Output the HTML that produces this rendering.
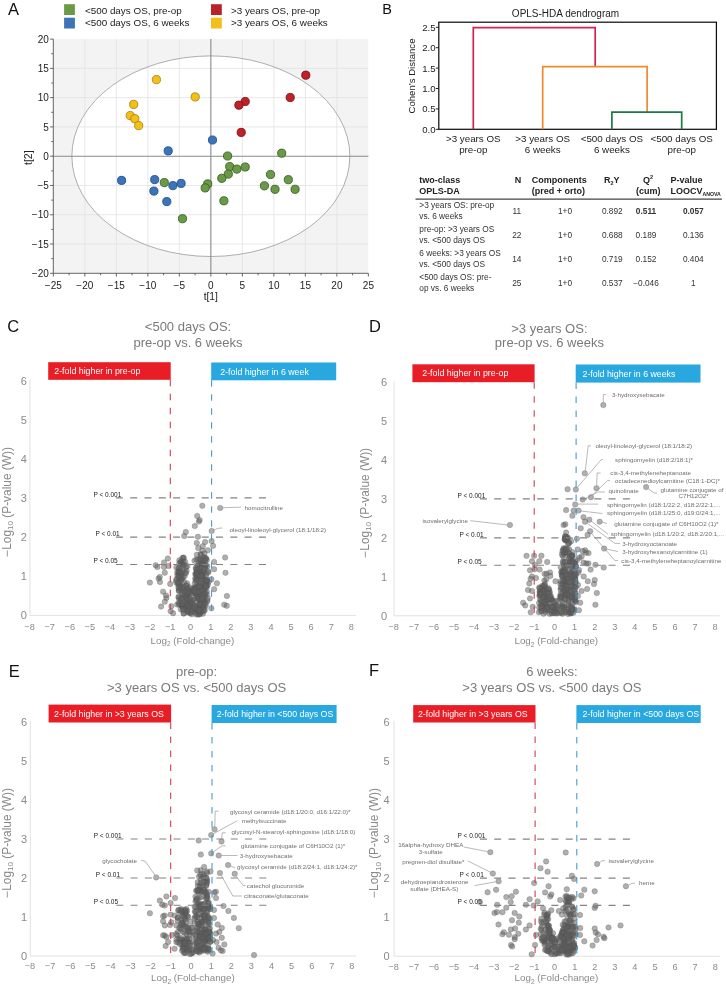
<!DOCTYPE html>
<html><head><meta charset="utf-8"><style>
html,body{margin:0;padding:0;background:#fff;width:726px;height:988px;overflow:hidden}
svg{display:block;font-family:"Liberation Sans",sans-serif;will-change:transform}
</style></head><body>
<svg width="726" height="988" viewBox="0 0 726 988">
<text x="8" y="14.6" font-size="16.5" fill="#111">A</text>
<rect x="64.1" y="4.2" width="10.8" height="10.8" fill="#6a9a46"/>
<rect x="64.1" y="17.7" width="10.8" height="10.8" fill="#3d74b6"/>
<rect x="211" y="4.2" width="10.8" height="10.8" fill="#b8232b"/>
<rect x="211" y="17.7" width="10.8" height="10.8" fill="#f3bf1a"/>
<g font-size="9.9" fill="#222"><text x="84.9" y="14.4">&lt;500 days OS, pre-op</text><text x="84.9" y="26.2">&lt;500 days OS, 6 weeks</text><text x="230.9" y="14.4">&gt;3 years OS, pre-op</text><text x="230.9" y="26.2">&gt;3 years OS, 6 weeks</text></g>
<rect x="53.3" y="39.1" width="315.0" height="234.2" fill="#f3f3f3"/>
<ellipse cx="210.85" cy="156.2" rx="139" ry="100.3" fill="#fff"/>
<path d="M84.85 39.1V273.3M116.35 39.1V273.3M147.85 39.1V273.3M179.35 39.1V273.3M242.35 39.1V273.3M273.85 39.1V273.3M305.35 39.1V273.3M336.85 39.1V273.3M53.3 244.02H368.4M53.3 214.75H368.4M53.3 185.47H368.4M53.3 126.92H368.4M53.3 97.65H368.4M53.3 68.37H368.4" stroke="#e2e2e2" stroke-width="0.8" fill="none"/>
<ellipse cx="210.85" cy="156.2" rx="139" ry="100.3" fill="none" stroke="#9a9a9a" stroke-width="0.8"/>
<path d="M210.85 39.1V273.3M53.3 156.20H368.4" stroke="#8a8a8a" stroke-width="1.1" fill="none"/>
<path d="M53.3 39.1V273.3H368.4M50.1 273.30H53.3M51.3 258.66H53.3M50.1 244.02H53.3M51.3 229.39H53.3M50.1 214.75H53.3M51.3 200.11H53.3M50.1 185.47H53.3M51.3 170.84H53.3M50.1 156.20H53.3M51.3 141.56H53.3M50.1 126.92H53.3M51.3 112.29H53.3M50.1 97.65H53.3M51.3 83.01H53.3M50.1 68.37H53.3M51.3 53.74H53.3M50.1 39.10H53.3M53.35 273.3V276.5M69.10 273.3V275.3M84.85 273.3V276.5M100.60 273.3V275.3M116.35 273.3V276.5M132.10 273.3V275.3M147.85 273.3V276.5M163.60 273.3V275.3M179.35 273.3V276.5M195.10 273.3V275.3M210.85 273.3V276.5M226.60 273.3V275.3M242.35 273.3V276.5M258.10 273.3V275.3M273.85 273.3V276.5M289.60 273.3V275.3M305.35 273.3V276.5M321.10 273.3V275.3M336.85 273.3V276.5M352.60 273.3V275.3M368.35 273.3V276.5" stroke="#555" stroke-width="0.9" fill="none"/>
<g font-size="10" fill="#222"><text x="48.8" y="276.9" text-anchor="end">−20</text><text x="48.8" y="247.6" text-anchor="end">−15</text><text x="48.8" y="218.3" text-anchor="end">−10</text><text x="48.8" y="189.1" text-anchor="end">−5</text><text x="48.8" y="159.8" text-anchor="end">0</text><text x="48.8" y="130.5" text-anchor="end">5</text><text x="48.8" y="101.2" text-anchor="end">10</text><text x="48.8" y="72.0" text-anchor="end">15</text><text x="48.8" y="42.7" text-anchor="end">20</text><text x="53.3" y="288.8" text-anchor="middle">−25</text><text x="84.8" y="288.8" text-anchor="middle">−20</text><text x="116.3" y="288.8" text-anchor="middle">−15</text><text x="147.8" y="288.8" text-anchor="middle">−10</text><text x="179.3" y="288.8" text-anchor="middle">−5</text><text x="210.8" y="288.8" text-anchor="middle">0</text><text x="242.3" y="288.8" text-anchor="middle">5</text><text x="273.9" y="288.8" text-anchor="middle">10</text><text x="305.4" y="288.8" text-anchor="middle">15</text><text x="336.9" y="288.8" text-anchor="middle">20</text><text x="368.4" y="288.8" text-anchor="middle">25</text></g>
<text x="210.8" y="300.2" font-size="10.3" fill="#222" text-anchor="middle">t[1]</text>
<text transform="translate(32.2 157.7) rotate(-90)" font-size="10.5" fill="#222" text-anchor="middle">t[2]</text>
<g fill="#6b9a47" stroke="#365c22" stroke-width="0.85"><circle cx="227.6" cy="156" r="4.1"/><circle cx="281.7" cy="153.2" r="4.1"/><circle cx="229.7" cy="166.6" r="4.1"/><circle cx="236.8" cy="169.1" r="4.1"/><circle cx="245.2" cy="167" r="4.1"/><circle cx="228.3" cy="174.1" r="4.1"/><circle cx="221.8" cy="178.3" r="4.1"/><circle cx="270.5" cy="174.5" r="4.1"/><circle cx="288.3" cy="179.7" r="4.1"/><circle cx="207.7" cy="183.9" r="4.1"/><circle cx="205.2" cy="187.9" r="4.1"/><circle cx="264.4" cy="185.8" r="4.1"/><circle cx="275" cy="189.3" r="4.1"/><circle cx="295.1" cy="189.3" r="4.1"/><circle cx="223.9" cy="200.8" r="4.1"/><circle cx="164.3" cy="182.6" r="4.1"/><circle cx="182.5" cy="218.7" r="4.1"/></g>
<g fill="#3a74ba" stroke="#1f4c82" stroke-width="0.85"><circle cx="212.5" cy="140.0" r="4.1"/><circle cx="168.2" cy="150.9" r="4.1"/><circle cx="121.6" cy="180.4" r="4.1"/><circle cx="154.7" cy="179.6" r="4.1"/><circle cx="153.9" cy="191.1" r="4.1"/><circle cx="172.9" cy="185.6" r="4.1"/><circle cx="181.1" cy="183.4" r="4.1"/><circle cx="166.8" cy="201.6" r="4.1"/></g>
<g fill="#f5c015" stroke="#a8820f" stroke-width="0.85"><circle cx="156.4" cy="79.6" r="4.1"/><circle cx="195.2" cy="96.9" r="4.1"/><circle cx="133.7" cy="104.4" r="4.1"/><circle cx="130.2" cy="115.6" r="4.1"/><circle cx="134.8" cy="118.7" r="4.1"/><circle cx="138.7" cy="125.6" r="4.1"/></g>
<g fill="#c21f29" stroke="#6e1216" stroke-width="0.85"><circle cx="305.8" cy="75.2" r="4.1"/><circle cx="290.2" cy="97.5" r="4.1"/><circle cx="245.2" cy="101.5" r="4.1"/><circle cx="238.9" cy="105.2" r="4.1"/><circle cx="241.2" cy="132.4" r="4.1"/></g>
<text x="382.3" y="14" font-size="14.5" fill="#111">B</text>
<text x="565.5" y="17" font-size="10" fill="#222" text-anchor="middle">OPLS-HDA dendrogram</text>
<rect x="438.8" y="22.2" width="277.6" height="107.1" fill="none" stroke="#111" stroke-width="1.25"/>
<path d="M435.8 129.30H438.8M435.8 108.90H438.8M435.8 88.50H438.8M435.8 68.10H438.8M435.8 47.70H438.8M435.8 27.30H438.8" stroke="#222" stroke-width="1"/>
<g font-size="9.6" fill="#222" text-anchor="end"><text x="435.5" y="132.7">0.0</text><text x="435.5" y="112.3">0.5</text><text x="435.5" y="91.9">1.0</text><text x="435.5" y="71.5">1.5</text><text x="435.5" y="51.1">2.0</text><text x="435.5" y="30.7">2.5</text></g>
<text transform="translate(414.6 76) rotate(-90)" font-size="9.6" fill="#222" text-anchor="middle">Cohen’s Distance</text>
<path d="M473.3 129.3V27.6H595.2V66.7" stroke="#d32152" stroke-width="1.7" fill="none"/>
<path d="M542.7 129.3V66.7H647.1V112.1" stroke="#ee8a2c" stroke-width="1.7" fill="none"/>
<path d="M611.9 129.3V112.1H681.7V129.3" stroke="#1d7a45" stroke-width="1.7" fill="none"/>
<g font-size="9.8" fill="#222" text-anchor="middle"><text x="473.3" y="141.8">&gt;3 years OS</text><text x="473.3" y="153.2">pre-op</text><text x="542.7" y="141.8">&gt;3 years OS</text><text x="542.7" y="153.2">6 weeks</text><text x="611.9" y="141.8">&lt;500 days OS</text><text x="611.9" y="153.2">6 weeks</text><text x="681.7" y="141.8">&lt;500 days OS</text><text x="681.7" y="153.2">pre-op</text></g>
<g font-size="9" font-weight="bold" fill="#222"><text x="419.3" y="182.6">two-class</text><text x="419.3" y="193.6">OPLS-DA</text><text x="517.9" y="182.6" text-anchor="middle">N</text><text x="531.8" y="182.6">Components</text><text x="531.8" y="193.6">(pred + orto)</text><text x="603.9" y="182.6">R<tspan font-size="5.5" dy="2.5">2</tspan><tspan dy="-2.5">Y</tspan></text><text x="648" y="182.6" text-anchor="middle">Q<tspan font-size="5.5" dy="-3.5">2</tspan></text><text x="648.3" y="193.6" text-anchor="middle">(cum)</text><text x="670.4" y="182.6">P-value</text><text x="670.4" y="193.6">LOOCV<tspan font-size="5.2" dy="2.5">ANOVA</tspan></text></g>
<path d="M415.5 199.2H722" stroke="#444" stroke-width="1.3"/>
<g font-size="8.3" fill="#333"><text x="419.3" y="208">&gt;3 years OS: pre-op</text><text x="419.3" y="219">vs. 6 weeks</text><text x="516.8" y="214" text-anchor="middle">11</text><text x="565" y="214" text-anchor="middle">1+0</text><text x="612.3" y="214" text-anchor="middle">0.892</text><text x="646" y="214" text-anchor="middle"><tspan font-weight="bold">0.511</tspan></text><text x="693.3" y="214" text-anchor="middle"><tspan font-weight="bold">0.057</tspan></text><text x="419.3" y="232">pre-op: &gt;3 years OS</text><text x="419.3" y="243">vs. &lt;500 days OS</text><text x="516.8" y="238" text-anchor="middle">22</text><text x="565" y="238" text-anchor="middle">1+0</text><text x="612.3" y="238" text-anchor="middle">0.688</text><text x="646" y="238" text-anchor="middle">0.189</text><text x="693.3" y="238" text-anchor="middle">0.136</text><text x="419.3" y="256">6 weeks: &gt;3 years OS</text><text x="419.3" y="267">vs. &lt;500 days OS</text><text x="516.8" y="262" text-anchor="middle">14</text><text x="565" y="262" text-anchor="middle">1+0</text><text x="612.3" y="262" text-anchor="middle">0.719</text><text x="646" y="262" text-anchor="middle">0.152</text><text x="693.3" y="262" text-anchor="middle">0.404</text><text x="419.3" y="280">&lt;500 days OS: pre-</text><text x="419.3" y="291">op vs. 6 weeks</text><text x="516.8" y="286" text-anchor="middle">25</text><text x="565" y="286" text-anchor="middle">1+0</text><text x="612.3" y="286" text-anchor="middle">0.537</text><text x="646" y="286" text-anchor="middle">−0.046</text><text x="693.3" y="286" text-anchor="middle">1</text></g>
<text x="7.2" y="331.7" font-size="16.5" fill="#111">C</text>
<g font-size="13" fill="#7a7a7a" text-anchor="middle"><text x="188.0" y="331.2">&lt;500 days OS:</text><text x="188.0" y="347.0">pre-op vs. 6 weeks</text></g>
<path d="M29.9 379.5V615.4H355.8" stroke="#dedede" stroke-width="0.9" fill="none"/>
<g font-size="11" fill="#8a8a8a" text-anchor="end"><text x="26.9" y="619.4">0</text><text x="26.9" y="580.2">1</text><text x="26.9" y="541.1">2</text><text x="26.9" y="501.9">3</text><text x="26.9" y="462.8">4</text><text x="26.9" y="423.6">5</text><text x="26.9" y="384.5">6</text></g>
<g font-size="9.2" fill="#8a8a8a" text-anchor="middle"><text x="29.6" y="629.6">−8</text><text x="49.7" y="629.6">−7</text><text x="69.8" y="629.6">−6</text><text x="89.8" y="629.6">−5</text><text x="109.9" y="629.6">−4</text><text x="130.0" y="629.6">−3</text><text x="150.1" y="629.6">−2</text><text x="170.2" y="629.6">−1</text><text x="190.6" y="629.6">0</text><text x="210.7" y="629.6">1</text><text x="230.8" y="629.6">2</text><text x="250.9" y="629.6">3</text><text x="271.0" y="629.6">4</text><text x="291.1" y="629.6">5</text><text x="311.1" y="629.6">6</text><text x="331.2" y="629.6">7</text><text x="351.3" y="629.6">8</text></g>
<text x="192.4" y="643.9" font-size="9.8" fill="#8a8a8a" text-anchor="middle">Log<tspan font-size="6.5" dy="2.5">2</tspan><tspan dy="-2.5"> (Fold-change)</tspan></text>
<text transform="translate(10.6 501.9) rotate(-90)" font-size="11.9" fill="#8a8a8a" text-anchor="middle">−Log<tspan font-size="8" dy="2.5">10</tspan><tspan dy="-2.5"> (P-value (W))</tspan></text>
<g font-size="6.5" fill="#222"><text x="93.4" y="497.1">P &lt; 0.001</text><text x="95.4" y="535.7">P &lt; 0.01</text><text x="93.4" y="562.9">P &lt; 0.05</text></g>
<rect x="48.2" y="362.2" width="122.5" height="17.6" fill="#e91d25"/>
<rect x="211.2" y="362.5" width="125.0" height="17.8" fill="#29a8e0"/>
<g font-size="8.8" fill="#fff"><text x="54.3" y="374.1">2-fold higher in pre-op</text><text x="220.3" y="374.5">2-fold higher in 6 week</text></g>
<text x="369.1" y="331.9" font-size="16.5" fill="#111">D</text>
<g font-size="13" fill="#7a7a7a" text-anchor="middle"><text x="549.4" y="332.5">&gt;3 years OS:</text><text x="549.4" y="347.0">pre-op vs. 6 weeks</text></g>
<path d="M394.0 381.1V615.8H719.6" stroke="#dedede" stroke-width="0.9" fill="none"/>
<g font-size="11" fill="#8a8a8a" text-anchor="end"><text x="387.0" y="619.8">0</text><text x="387.0" y="580.8">1</text><text x="387.0" y="541.9">2</text><text x="387.0" y="502.9">3</text><text x="387.0" y="464.0">4</text><text x="387.0" y="425.0">5</text><text x="387.0" y="386.1">6</text></g>
<g font-size="9.2" fill="#8a8a8a" text-anchor="middle"><text x="393.7" y="630.0">−8</text><text x="413.8" y="630.0">−7</text><text x="433.8" y="630.0">−6</text><text x="453.9" y="630.0">−5</text><text x="474.0" y="630.0">−4</text><text x="494.0" y="630.0">−3</text><text x="514.1" y="630.0">−2</text><text x="534.2" y="630.0">−1</text><text x="554.5" y="630.0">0</text><text x="574.6" y="630.0">1</text><text x="594.7" y="630.0">2</text><text x="614.8" y="630.0">3</text><text x="634.8" y="630.0">4</text><text x="654.9" y="630.0">5</text><text x="675.0" y="630.0">6</text><text x="695.0" y="630.0">7</text><text x="715.1" y="630.0">8</text></g>
<text x="556.3" y="644.3" font-size="9.8" fill="#8a8a8a" text-anchor="middle">Log<tspan font-size="6.5" dy="2.5">2</tspan><tspan dy="-2.5"> (Fold-change)</tspan></text>
<text transform="translate(368.9 502.8) rotate(-90)" font-size="11.9" fill="#8a8a8a" text-anchor="middle">−Log<tspan font-size="8" dy="2.5">10</tspan><tspan dy="-2.5"> (P-value (W))</tspan></text>
<g font-size="6.5" fill="#222"><text x="457.4" y="498.1">P &lt; 0.001</text><text x="459.4" y="536.5">P &lt; 0.01</text><text x="457.4" y="563.6">P &lt; 0.05</text></g>
<rect x="412.4" y="364.3" width="122.2" height="17.9" fill="#e91d25"/>
<rect x="575.7" y="364.5" width="124.8" height="18.1" fill="#29a8e0"/>
<g font-size="8.8" fill="#fff"><text x="422.3" y="376.4">2-fold higher in pre-op</text><text x="582.5" y="376.7">2-fold higher in 6 weeks</text></g>
<text x="8.7" y="676.5" font-size="16.5" fill="#111">E</text>
<g font-size="13" fill="#7a7a7a" text-anchor="middle"><text x="196.6" y="676.0">pre-op:</text><text x="196.6" y="692.2">&gt;3 years OS vs. &lt;500 days OS</text></g>
<path d="M30.3 721.0V956.0H356.4" stroke="#dedede" stroke-width="0.9" fill="none"/>
<g font-size="11" fill="#8a8a8a" text-anchor="end"><text x="27.0" y="960.0">0</text><text x="27.0" y="921.0">1</text><text x="27.0" y="882.0">2</text><text x="27.0" y="843.0">3</text><text x="27.0" y="804.0">4</text><text x="27.0" y="765.0">5</text><text x="27.0" y="726.0">6</text></g>
<g font-size="9.2" fill="#8a8a8a" text-anchor="middle"><text x="30.0" y="969.4">−8</text><text x="50.1" y="969.4">−7</text><text x="70.2" y="969.4">−6</text><text x="90.3" y="969.4">−5</text><text x="110.4" y="969.4">−4</text><text x="130.5" y="969.4">−3</text><text x="150.6" y="969.4">−2</text><text x="170.7" y="969.4">−1</text><text x="191.1" y="969.4">0</text><text x="211.2" y="969.4">1</text><text x="231.3" y="969.4">2</text><text x="251.4" y="969.4">3</text><text x="271.5" y="969.4">4</text><text x="291.6" y="969.4">5</text><text x="311.7" y="969.4">6</text><text x="331.8" y="969.4">7</text><text x="351.9" y="969.4">8</text></g>
<text x="192.9" y="981.0" font-size="9.8" fill="#8a8a8a" text-anchor="middle">Log<tspan font-size="6.5" dy="2.5">2</tspan><tspan dy="-2.5"> (Fold-change)</tspan></text>
<text transform="translate(10.6 842.9) rotate(-90)" font-size="11.9" fill="#8a8a8a" text-anchor="middle">−Log<tspan font-size="8" dy="2.5">10</tspan><tspan dy="-2.5"> (P-value (W))</tspan></text>
<g font-size="6.5" fill="#222"><text x="93.8" y="838.2">P &lt; 0.001</text><text x="95.8" y="876.6">P &lt; 0.01</text><text x="93.8" y="903.7">P &lt; 0.05</text></g>
<rect x="48.6" y="704.6" width="122.5" height="17.9" fill="#e91d25"/>
<rect x="211.6" y="705.0" width="125.0" height="18.0" fill="#29a8e0"/>
<g font-size="8.8" fill="#fff"><text x="54.1" y="716.6">2-fold higher in &gt;3 years OS</text><text x="216.7" y="717.1">2-fold higher in &lt;500 days OS</text></g>
<text x="369.1" y="676.2" font-size="16.5" fill="#111">F</text>
<g font-size="13" fill="#7a7a7a" text-anchor="middle"><text x="551.9" y="676.2">6 weeks:</text><text x="551.9" y="691.9">&gt;3 years OS vs. &lt;500 days OS</text></g>
<path d="M394.0 720.9V956.2H719.7" stroke="#dedede" stroke-width="0.9" fill="none"/>
<g font-size="11" fill="#8a8a8a" text-anchor="end"><text x="389.6" y="960.2">0</text><text x="389.6" y="921.2">1</text><text x="389.6" y="882.1">2</text><text x="389.6" y="843.1">3</text><text x="389.6" y="804.0">4</text><text x="389.6" y="765.0">5</text><text x="389.6" y="725.9">6</text></g>
<g font-size="9.2" fill="#8a8a8a" text-anchor="middle"><text x="393.7" y="969.6">−8</text><text x="413.8" y="969.6">−7</text><text x="433.9" y="969.6">−6</text><text x="453.9" y="969.6">−5</text><text x="474.0" y="969.6">−4</text><text x="494.1" y="969.6">−3</text><text x="514.2" y="969.6">−2</text><text x="534.2" y="969.6">−1</text><text x="554.6" y="969.6">0</text><text x="574.7" y="969.6">1</text><text x="594.7" y="969.6">2</text><text x="614.8" y="969.6">3</text><text x="634.9" y="969.6">4</text><text x="655.0" y="969.6">5</text><text x="675.0" y="969.6">6</text><text x="695.1" y="969.6">7</text><text x="715.2" y="969.6">8</text></g>
<text x="556.4" y="981.4" font-size="9.8" fill="#8a8a8a" text-anchor="middle">Log<tspan font-size="6.5" dy="2.5">2</tspan><tspan dy="-2.5"> (Fold-change)</tspan></text>
<text transform="translate(378.0 843.0) rotate(-90)" font-size="11.9" fill="#8a8a8a" text-anchor="middle">−Log<tspan font-size="8" dy="2.5">10</tspan><tspan dy="-2.5"> (P-value (W))</tspan></text>
<g font-size="6.5" fill="#222"><text x="457.5" y="838.3">P &lt; 0.001</text><text x="459.5" y="876.7">P &lt; 0.01</text><text x="457.5" y="903.8">P &lt; 0.05</text></g>
<rect x="413.2" y="705.1" width="122.3" height="17.4" fill="#e91d25"/>
<rect x="576.4" y="705.1" width="124.3" height="17.9" fill="#29a8e0"/>
<g font-size="8.8" fill="#fff"><text x="417.9" y="716.9">2-fold higher in &gt;3 years OS</text><text x="582.5" y="717.1">2-fold higher in &lt;500 days OS</text></g>
<g fill="#606060" fill-opacity="0.5" stroke="#505050" stroke-opacity="0.5" stroke-width="0.5"><circle cx="184.4" cy="591.7" r="2.75"/><circle cx="201.5" cy="586.6" r="2.75"/><circle cx="206.9" cy="579.4" r="2.75"/><circle cx="179.5" cy="599.0" r="2.75"/><circle cx="193.1" cy="592.8" r="2.75"/><circle cx="161.1" cy="606.6" r="2.75"/><circle cx="201.7" cy="585.6" r="2.75"/><circle cx="187.5" cy="606.9" r="2.75"/><circle cx="201.9" cy="572.5" r="2.75"/><circle cx="202.6" cy="579.8" r="2.75"/><circle cx="178.6" cy="602.7" r="2.75"/><circle cx="214.1" cy="569.2" r="2.75"/><circle cx="206.9" cy="601.7" r="2.75"/><circle cx="201.0" cy="562.4" r="2.75"/><circle cx="194.8" cy="526.1" r="2.75"/><circle cx="189.6" cy="608.1" r="2.75"/><circle cx="197.0" cy="574.7" r="2.75"/><circle cx="164.8" cy="572.7" r="2.75"/><circle cx="216.9" cy="583.3" r="2.75"/><circle cx="197.9" cy="604.7" r="2.75"/><circle cx="187.1" cy="583.4" r="2.75"/><circle cx="214.1" cy="589.2" r="2.75"/><circle cx="197.6" cy="607.1" r="2.75"/><circle cx="200.6" cy="592.6" r="2.75"/><circle cx="194.7" cy="588.1" r="2.75"/><circle cx="183.3" cy="561.1" r="2.75"/><circle cx="200.6" cy="553.9" r="2.75"/><circle cx="196.8" cy="543" r="2.75"/><circle cx="195.4" cy="587.3" r="2.75"/><circle cx="204.4" cy="586.6" r="2.75"/><circle cx="183.4" cy="588.5" r="2.75"/><circle cx="187.7" cy="604.8" r="2.75"/><circle cx="208.4" cy="582.1" r="2.75"/><circle cx="202.5" cy="587.3" r="2.75"/><circle cx="200.9" cy="567.6" r="2.75"/><circle cx="192.7" cy="600.2" r="2.75"/><circle cx="203.3" cy="571.1" r="2.75"/><circle cx="158.6" cy="578.5" r="2.75"/><circle cx="202.1" cy="574.7" r="2.75"/><circle cx="200.3" cy="611.4" r="2.75"/><circle cx="204.1" cy="571.6" r="2.75"/><circle cx="199.3" cy="587.9" r="2.75"/><circle cx="203.0" cy="575.9" r="2.75"/><circle cx="188.1" cy="605.0" r="2.75"/><circle cx="194.1" cy="608.5" r="2.75"/><circle cx="182.0" cy="573.8" r="2.75"/><circle cx="178.9" cy="590.7" r="2.75"/><circle cx="179.0" cy="604.7" r="2.75"/><circle cx="160" cy="582" r="2.75"/><circle cx="184.9" cy="597.0" r="2.75"/><circle cx="205.7" cy="606.1" r="2.75"/><circle cx="194.9" cy="598.2" r="2.75"/><circle cx="186.6" cy="585.4" r="2.75"/><circle cx="197.8" cy="610.8" r="2.75"/><circle cx="178.8" cy="590.7" r="2.75"/><circle cx="202.6" cy="574.4" r="2.75"/><circle cx="187.1" cy="608.4" r="2.75"/><circle cx="198.9" cy="521.5" r="2.75"/><circle cx="167.9" cy="558.5" r="2.75"/><circle cx="183.9" cy="613.4" r="2.75"/><circle cx="179.8" cy="569.6" r="2.75"/><circle cx="204.8" cy="601.0" r="2.75"/><circle cx="206.0" cy="587.0" r="2.75"/><circle cx="177.7" cy="584.2" r="2.75"/><circle cx="200.0" cy="611.5" r="2.75"/><circle cx="168.5" cy="566.1" r="2.75"/><circle cx="197.9" cy="536.8" r="2.75"/><circle cx="181.9" cy="593.8" r="2.75"/><circle cx="205.0" cy="595.5" r="2.75"/><circle cx="189.4" cy="596.8" r="2.75"/><circle cx="187.2" cy="612.0" r="2.75"/><circle cx="199.5" cy="590.9" r="2.75"/><circle cx="181.6" cy="605.3" r="2.75"/><circle cx="183.6" cy="613.5" r="2.75"/><circle cx="189.6" cy="591.7" r="2.75"/><circle cx="186.5" cy="598.0" r="2.75"/><circle cx="177.2" cy="572.5" r="2.75"/><circle cx="195.6" cy="592.9" r="2.75"/><circle cx="199.6" cy="571.1" r="2.75"/><circle cx="199.3" cy="614.2" r="2.75"/><circle cx="201.4" cy="590.1" r="2.75"/><circle cx="202.8" cy="546.2" r="2.75"/><circle cx="199.3" cy="563.7" r="2.75"/><circle cx="205.2" cy="560.9" r="2.75"/><circle cx="186.2" cy="607.7" r="2.75"/><circle cx="178.5" cy="597.6" r="2.75"/><circle cx="199.8" cy="583.5" r="2.75"/><circle cx="206.0" cy="575.6" r="2.75"/><circle cx="188.7" cy="612.7" r="2.75"/><circle cx="197.2" cy="515.9" r="2.75"/><circle cx="199.7" cy="559.1" r="2.75"/><circle cx="204.1" cy="593.2" r="2.75"/><circle cx="194.9" cy="587.3" r="2.75"/><circle cx="196.2" cy="574.2" r="2.75"/><circle cx="204.2" cy="580.1" r="2.75"/><circle cx="205.7" cy="582.2" r="2.75"/><circle cx="198.8" cy="608.1" r="2.75"/><circle cx="197.6" cy="595.6" r="2.75"/><circle cx="200.6" cy="559.3" r="2.75"/><circle cx="176.2" cy="582.2" r="2.75"/><circle cx="182.9" cy="564.8" r="2.75"/><circle cx="180.5" cy="562.2" r="2.75"/><circle cx="194.4" cy="612.0" r="2.75"/><circle cx="204.8" cy="597.1" r="2.75"/><circle cx="203.4" cy="601.0" r="2.75"/><circle cx="198.1" cy="582.4" r="2.75"/><circle cx="200.8" cy="554.8" r="2.75"/><circle cx="191.9" cy="593.6" r="2.75"/><circle cx="179.8" cy="585.6" r="2.75"/><circle cx="192.7" cy="609.9" r="2.75"/><circle cx="188.5" cy="597.6" r="2.75"/><circle cx="220.2" cy="507.9" r="2.75"/><circle cx="207.1" cy="586.8" r="2.75"/><circle cx="185.8" cy="603.1" r="2.75"/><circle cx="198.7" cy="595.8" r="2.75"/><circle cx="205.1" cy="542.1" r="2.75"/><circle cx="200.1" cy="611.9" r="2.75"/><circle cx="184.6" cy="576.2" r="2.75"/><circle cx="202.4" cy="550.7" r="2.75"/><circle cx="196.5" cy="572.5" r="2.75"/><circle cx="171.4" cy="606.2" r="2.75"/><circle cx="200.1" cy="607.9" r="2.75"/><circle cx="155.7" cy="565.3" r="2.75"/><circle cx="180.8" cy="609.4" r="2.75"/><circle cx="203.4" cy="611.3" r="2.75"/><circle cx="181.1" cy="578.6" r="2.75"/><circle cx="182.3" cy="558.1" r="2.75"/><circle cx="206.7" cy="594.7" r="2.75"/><circle cx="202.4" cy="578.2" r="2.75"/><circle cx="185.9" cy="599.6" r="2.75"/><circle cx="199.6" cy="581.5" r="2.75"/><circle cx="178.2" cy="571.6" r="2.75"/><circle cx="197.2" cy="569.3" r="2.75"/><circle cx="195.7" cy="579.2" r="2.75"/><circle cx="196.7" cy="613.1" r="2.75"/><circle cx="211.4" cy="608.3" r="2.75"/><circle cx="181.0" cy="572.5" r="2.75"/><circle cx="179.0" cy="584.3" r="2.75"/><circle cx="164" cy="567" r="2.75"/><circle cx="195.2" cy="578.4" r="2.75"/><circle cx="185.9" cy="597.7" r="2.75"/><circle cx="190.7" cy="607.6" r="2.75"/><circle cx="198.2" cy="598.4" r="2.75"/><circle cx="198.1" cy="598.8" r="2.75"/><circle cx="197.3" cy="576.2" r="2.75"/><circle cx="196.1" cy="569.2" r="2.75"/><circle cx="198.2" cy="590.9" r="2.75"/><circle cx="200.7" cy="611.8" r="2.75"/><circle cx="206.0" cy="583.6" r="2.75"/><circle cx="197.9" cy="609.5" r="2.75"/><circle cx="164.8" cy="601.7" r="2.75"/><circle cx="226.9" cy="596" r="2.75"/><circle cx="205.7" cy="580.7" r="2.75"/><circle cx="182.8" cy="577.7" r="2.75"/><circle cx="193.3" cy="604.9" r="2.75"/><circle cx="196.3" cy="614.5" r="2.75"/><circle cx="200.1" cy="603.4" r="2.75"/><circle cx="207.8" cy="584.7" r="2.75"/><circle cx="198.0" cy="565.6" r="2.75"/><circle cx="182.1" cy="606.5" r="2.75"/><circle cx="149.9" cy="582.6" r="2.75"/><circle cx="190.4" cy="612.9" r="2.75"/><circle cx="206.9" cy="560.1" r="2.75"/><circle cx="193.9" cy="609.0" r="2.75"/><circle cx="197.7" cy="597.6" r="2.75"/><circle cx="197.0" cy="566.1" r="2.75"/><circle cx="157.4" cy="567" r="2.75"/><circle cx="195.8" cy="587.3" r="2.75"/><circle cx="182.1" cy="604.7" r="2.75"/><circle cx="207.0" cy="582.7" r="2.75"/><circle cx="211.6" cy="541" r="2.75"/><circle cx="185.2" cy="607.3" r="2.75"/><circle cx="200.0" cy="574.1" r="2.75"/><circle cx="187.5" cy="594.6" r="2.75"/><circle cx="190.3" cy="590.0" r="2.75"/><circle cx="202.1" cy="575.7" r="2.75"/><circle cx="183.4" cy="609.2" r="2.75"/><circle cx="224.2" cy="604.7" r="2.75"/><circle cx="202.8" cy="602.8" r="2.75"/><circle cx="195.2" cy="592.4" r="2.75"/><circle cx="187.0" cy="603.7" r="2.75"/><circle cx="184.6" cy="604.9" r="2.75"/><circle cx="190.8" cy="606.0" r="2.75"/><circle cx="207.4" cy="600.3" r="2.75"/><circle cx="190.2" cy="603.1" r="2.75"/><circle cx="189.4" cy="609.7" r="2.75"/><circle cx="195.4" cy="593.5" r="2.75"/><circle cx="199.5" cy="586.0" r="2.75"/><circle cx="198.4" cy="576.5" r="2.75"/><circle cx="198.1" cy="614.4" r="2.75"/><circle cx="183.5" cy="586.6" r="2.75"/><circle cx="199.7" cy="569.8" r="2.75"/><circle cx="205.8" cy="558.6" r="2.75"/><circle cx="199.0" cy="598.9" r="2.75"/><circle cx="201.9" cy="563.8" r="2.75"/><circle cx="197.6" cy="587.3" r="2.75"/><circle cx="195.2" cy="573.9" r="2.75"/><circle cx="204.8" cy="580.2" r="2.75"/><circle cx="184.2" cy="582.0" r="2.75"/><circle cx="180.6" cy="576.8" r="2.75"/><circle cx="190.4" cy="604.7" r="2.75"/><circle cx="166.4" cy="597.9" r="2.75"/><circle cx="206.4" cy="573.5" r="2.75"/><circle cx="201.4" cy="564.1" r="2.75"/><circle cx="185.9" cy="573.3" r="2.75"/><circle cx="194.7" cy="583.3" r="2.75"/><circle cx="182.5" cy="564.4" r="2.75"/><circle cx="208.2" cy="571.3" r="2.75"/><circle cx="180.6" cy="589.1" r="2.75"/><circle cx="187.4" cy="588.6" r="2.75"/><circle cx="204.2" cy="602.7" r="2.75"/><circle cx="178.7" cy="588.6" r="2.75"/><circle cx="197.7" cy="593.3" r="2.75"/><circle cx="207.9" cy="550.2" r="2.75"/><circle cx="206.0" cy="565.3" r="2.75"/><circle cx="178.7" cy="573.6" r="2.75"/><circle cx="191.8" cy="588.7" r="2.75"/><circle cx="193.8" cy="589.2" r="2.75"/><circle cx="173.1" cy="613.2" r="2.75"/><circle cx="193.4" cy="604.8" r="2.75"/><circle cx="205.7" cy="582.1" r="2.75"/><circle cx="182.4" cy="592.6" r="2.75"/><circle cx="202.5" cy="564.6" r="2.75"/><circle cx="182.6" cy="606.2" r="2.75"/><circle cx="197.1" cy="573.2" r="2.75"/><circle cx="201.0" cy="612.6" r="2.75"/><circle cx="204.3" cy="589.7" r="2.75"/><circle cx="177.4" cy="575.5" r="2.75"/><circle cx="202.1" cy="605.0" r="2.75"/><circle cx="184.2" cy="536.1" r="2.75"/><circle cx="226.8" cy="605.8" r="2.75"/><circle cx="203.7" cy="557.1" r="2.75"/><circle cx="183.1" cy="608.1" r="2.75"/><circle cx="181.1" cy="580.7" r="2.75"/><circle cx="190.1" cy="606.7" r="2.75"/><circle cx="186.8" cy="590.2" r="2.75"/><circle cx="201.5" cy="576.3" r="2.75"/><circle cx="206.9" cy="591.7" r="2.75"/><circle cx="177.2" cy="604.5" r="2.75"/><circle cx="190.2" cy="591.4" r="2.75"/><circle cx="204.8" cy="593.5" r="2.75"/><circle cx="196.7" cy="572.6" r="2.75"/><circle cx="183.4" cy="599.0" r="2.75"/><circle cx="188.9" cy="609.6" r="2.75"/><circle cx="181.7" cy="579.6" r="2.75"/><circle cx="179.7" cy="578.7" r="2.75"/><circle cx="200.2" cy="600.2" r="2.75"/><circle cx="198.6" cy="596.0" r="2.75"/><circle cx="200.0" cy="600.3" r="2.75"/><circle cx="202.3" cy="505.8" r="2.75"/><circle cx="183.5" cy="557.5" r="2.75"/><circle cx="178.5" cy="575.9" r="2.75"/><circle cx="202.9" cy="613.7" r="2.75"/><circle cx="198.7" cy="609.6" r="2.75"/><circle cx="188.2" cy="602.7" r="2.75"/><circle cx="200.6" cy="560.7" r="2.75"/><circle cx="199.2" cy="569.2" r="2.75"/><circle cx="204.5" cy="610.5" r="2.75"/><circle cx="196.4" cy="559.4" r="2.75"/><circle cx="205.6" cy="604.1" r="2.75"/><circle cx="203.2" cy="607.2" r="2.75"/><circle cx="196.6" cy="594.0" r="2.75"/><circle cx="204.8" cy="568.6" r="2.75"/><circle cx="204.5" cy="589.5" r="2.75"/><circle cx="196.9" cy="609.4" r="2.75"/><circle cx="170.6" cy="611.2" r="2.75"/><circle cx="183.1" cy="587.4" r="2.75"/><circle cx="202.9" cy="606.8" r="2.75"/><circle cx="178.5" cy="568.1" r="2.75"/><circle cx="183.9" cy="594.6" r="2.75"/><circle cx="204.0" cy="584.6" r="2.75"/><circle cx="207.3" cy="566.2" r="2.75"/><circle cx="176.8" cy="579.1" r="2.75"/><circle cx="203.2" cy="607.3" r="2.75"/><circle cx="203.1" cy="563.1" r="2.75"/><circle cx="183.7" cy="569.8" r="2.75"/><circle cx="185.5" cy="572.3" r="2.75"/><circle cx="197.7" cy="592.1" r="2.75"/><circle cx="187.7" cy="592.6" r="2.75"/><circle cx="225.1" cy="557.5" r="2.75"/><circle cx="186.0" cy="567.2" r="2.75"/><circle cx="201.3" cy="586.7" r="2.75"/><circle cx="180.4" cy="585.6" r="2.75"/><circle cx="195.5" cy="594.0" r="2.75"/><circle cx="199.6" cy="614.3" r="2.75"/><circle cx="197.2" cy="604.4" r="2.75"/><circle cx="199.5" cy="586.9" r="2.75"/><circle cx="208.4" cy="572.3" r="2.75"/><circle cx="198.1" cy="571.8" r="2.75"/><circle cx="190.2" cy="602.0" r="2.75"/><circle cx="197.2" cy="575.6" r="2.75"/><circle cx="201.4" cy="598.1" r="2.75"/><circle cx="204.1" cy="585.1" r="2.75"/><circle cx="181.6" cy="600.1" r="2.75"/><circle cx="213.1" cy="545.8" r="2.75"/><circle cx="180.3" cy="587.0" r="2.75"/><circle cx="204.4" cy="553.4" r="2.75"/><circle cx="189.8" cy="587.3" r="2.75"/><circle cx="201.8" cy="599.1" r="2.75"/><circle cx="203.6" cy="568.6" r="2.75"/><circle cx="181.9" cy="564.1" r="2.75"/><circle cx="205.0" cy="557.7" r="2.75"/><circle cx="196.8" cy="554.7" r="2.75"/><circle cx="164" cy="562.4" r="2.75"/><circle cx="197.4" cy="597.3" r="2.75"/><circle cx="197.8" cy="599.1" r="2.75"/><circle cx="178.6" cy="587.2" r="2.75"/><circle cx="199.1" cy="613.1" r="2.75"/><circle cx="200.9" cy="591.9" r="2.75"/><circle cx="179.3" cy="563.5" r="2.75"/><circle cx="181.7" cy="577.0" r="2.75"/><circle cx="180.4" cy="573.5" r="2.75"/><circle cx="188.2" cy="594.4" r="2.75"/><circle cx="211.7" cy="531" r="2.75"/><circle cx="194.5" cy="560.7" r="2.75"/><circle cx="201.9" cy="594.6" r="2.75"/><circle cx="179.1" cy="568.4" r="2.75"/><circle cx="166" cy="595.5" r="2.75"/><circle cx="197.3" cy="578.6" r="2.75"/><circle cx="186.9" cy="594.3" r="2.75"/><circle cx="188.2" cy="599.4" r="2.75"/><circle cx="178.7" cy="596.5" r="2.75"/><circle cx="186.6" cy="570.7" r="2.75"/><circle cx="181.1" cy="598.3" r="2.75"/><circle cx="191.6" cy="614.3" r="2.75"/><circle cx="195.7" cy="567.9" r="2.75"/><circle cx="205.3" cy="566.8" r="2.75"/><circle cx="195.0" cy="592.6" r="2.75"/><circle cx="163.1" cy="591.7" r="2.75"/><circle cx="214.1" cy="561.9" r="2.75"/><circle cx="190.8" cy="612.7" r="2.75"/><circle cx="198.2" cy="559.6" r="2.75"/><circle cx="183.6" cy="558.1" r="2.75"/><circle cx="181.5" cy="562.0" r="2.75"/><circle cx="180.9" cy="561.7" r="2.75"/><circle cx="170.2" cy="583.9" r="2.75"/><circle cx="189.1" cy="590.9" r="2.75"/><circle cx="199.0" cy="580.1" r="2.75"/><circle cx="197.7" cy="606.5" r="2.75"/><circle cx="186.0" cy="585.7" r="2.75"/><circle cx="182.6" cy="598.1" r="2.75"/><circle cx="186.1" cy="593.8" r="2.75"/><circle cx="204.1" cy="560.0" r="2.75"/><circle cx="176.0" cy="580.3" r="2.75"/><circle cx="207.7" cy="598.0" r="2.75"/><circle cx="204.6" cy="609.6" r="2.75"/><circle cx="202.3" cy="590.7" r="2.75"/><circle cx="179.6" cy="572.1" r="2.75"/><circle cx="186.5" cy="597.8" r="2.75"/><circle cx="203.0" cy="596.6" r="2.75"/><circle cx="184.6" cy="564.9" r="2.75"/><circle cx="205.5" cy="585.7" r="2.75"/><circle cx="197.3" cy="569.5" r="2.75"/><circle cx="182.9" cy="610.0" r="2.75"/><circle cx="200.1" cy="609.6" r="2.75"/><circle cx="199.9" cy="604.6" r="2.75"/><circle cx="194.1" cy="608.1" r="2.75"/><circle cx="191.8" cy="602.3" r="2.75"/><circle cx="188.1" cy="610.6" r="2.75"/><circle cx="196.6" cy="575.4" r="2.75"/><circle cx="199.6" cy="520" r="2.75"/><circle cx="196.5" cy="573.2" r="2.75"/><circle cx="178.4" cy="581.8" r="2.75"/><circle cx="196.5" cy="579.9" r="2.75"/><circle cx="206.1" cy="558.4" r="2.75"/><circle cx="196.1" cy="581.5" r="2.75"/><circle cx="206.0" cy="585.7" r="2.75"/><circle cx="200.9" cy="604.3" r="2.75"/><circle cx="189.1" cy="608.8" r="2.75"/><circle cx="186.3" cy="604.4" r="2.75"/><circle cx="201.7" cy="598.7" r="2.75"/><circle cx="191.9" cy="602.3" r="2.75"/><circle cx="206.2" cy="580.8" r="2.75"/><circle cx="204.1" cy="604.6" r="2.75"/><circle cx="199.0" cy="611.3" r="2.75"/><circle cx="185.2" cy="591.0" r="2.75"/><circle cx="179.3" cy="560.3" r="2.75"/><circle cx="179.2" cy="571.6" r="2.75"/><circle cx="182.6" cy="604.2" r="2.75"/><circle cx="188.5" cy="592.2" r="2.75"/><circle cx="178.8" cy="577.2" r="2.75"/><circle cx="225.5" cy="572.8" r="2.75"/><circle cx="180.1" cy="603.6" r="2.75"/><circle cx="194.4" cy="591.0" r="2.75"/><circle cx="178.3" cy="583.0" r="2.75"/><circle cx="176.4" cy="567.4" r="2.75"/><circle cx="193.4" cy="599.8" r="2.75"/><circle cx="200.2" cy="575.7" r="2.75"/><circle cx="206.1" cy="586.5" r="2.75"/><circle cx="185.8" cy="532" r="2.75"/><circle cx="195.7" cy="608.3" r="2.75"/><circle cx="187.5" cy="611.0" r="2.75"/><circle cx="200.3" cy="610.9" r="2.75"/><circle cx="185.1" cy="561.8" r="2.75"/><circle cx="198.6" cy="609.7" r="2.75"/><circle cx="182.2" cy="603.8" r="2.75"/><circle cx="205.0" cy="565.2" r="2.75"/><circle cx="198.2" cy="547.9" r="2.75"/><circle cx="159.8" cy="576.9" r="2.75"/><circle cx="207.1" cy="580.2" r="2.75"/><circle cx="190.7" cy="609.1" r="2.75"/><circle cx="190.2" cy="598.8" r="2.75"/><circle cx="187.5" cy="589.0" r="2.75"/><circle cx="185.1" cy="592.0" r="2.75"/><circle cx="182.4" cy="571.0" r="2.75"/><circle cx="205.6" cy="592.7" r="2.75"/><circle cx="191.9" cy="611.3" r="2.75"/><circle cx="194.5" cy="607.3" r="2.75"/><circle cx="187.5" cy="566.1" r="2.75"/><circle cx="188.6" cy="606.3" r="2.75"/><circle cx="198.6" cy="592.1" r="2.75"/><circle cx="211.4" cy="579.2" r="2.75"/></g>
<path d="M222.9 507.7L240.9 507.2M214.2 530Q217 527.8 222.3 527.9" stroke="#8a8a8a" stroke-width="0.6" fill="none"/>
<g font-size="6.25" fill="#6e6e6e"><text x="244.5" y="509.8">homocitrulline</text><text x="229.6" y="531.5">oleoyl-linoleoyl-glycerol (18:1/18:2)</text></g>
<g fill="#606060" fill-opacity="0.5" stroke="#505050" stroke-opacity="0.5" stroke-width="0.5"><circle cx="542.2" cy="602.1" r="2.75"/><circle cx="586" cy="552.7" r="2.75"/><circle cx="604.1" cy="548.6" r="2.75"/><circle cx="595.4" cy="564.8" r="2.75"/><circle cx="561.4" cy="572.5" r="2.75"/><circle cx="540.1" cy="594.4" r="2.75"/><circle cx="569.1" cy="578.7" r="2.75"/><circle cx="543.3" cy="604.5" r="2.75"/><circle cx="543.3" cy="590.9" r="2.75"/><circle cx="563.5" cy="548.3" r="2.75"/><circle cx="561.0" cy="605.5" r="2.75"/><circle cx="543.6" cy="613.7" r="2.75"/><circle cx="532" cy="591" r="2.75"/><circle cx="562.0" cy="575.8" r="2.75"/><circle cx="572.9" cy="569.2" r="2.75"/><circle cx="568.8" cy="594.8" r="2.75"/><circle cx="539.2" cy="587.4" r="2.75"/><circle cx="572.1" cy="574.9" r="2.75"/><circle cx="583.5" cy="517.2" r="2.75"/><circle cx="594" cy="584.1" r="2.75"/><circle cx="603.7" cy="567.5" r="2.75"/><circle cx="590.6" cy="569.6" r="2.75"/><circle cx="567.7" cy="595.4" r="2.75"/><circle cx="546.5" cy="600.3" r="2.75"/><circle cx="554.0" cy="609.3" r="2.75"/><circle cx="563.6" cy="569.2" r="2.75"/><circle cx="575.0" cy="561.6" r="2.75"/><circle cx="596.8" cy="593" r="2.75"/><circle cx="567.5" cy="537.3" r="2.75"/><circle cx="571.3" cy="573.8" r="2.75"/><circle cx="548.9" cy="599.7" r="2.75"/><circle cx="569.2" cy="549.2" r="2.75"/><circle cx="564.5" cy="548.9" r="2.75"/><circle cx="545.0" cy="594.4" r="2.75"/><circle cx="579.3" cy="557.7" r="2.75"/><circle cx="570.1" cy="589.9" r="2.75"/><circle cx="562.9" cy="607.1" r="2.75"/><circle cx="580.2" cy="602.7" r="2.75"/><circle cx="574.1" cy="597.5" r="2.75"/><circle cx="509.9" cy="525" r="2.75"/><circle cx="568.5" cy="608.7" r="2.75"/><circle cx="570.6" cy="611.9" r="2.75"/><circle cx="571.5" cy="585.7" r="2.75"/><circle cx="568.7" cy="589.8" r="2.75"/><circle cx="571.1" cy="541.2" r="2.75"/><circle cx="541.4" cy="555.8" r="2.75"/><circle cx="545.4" cy="596.1" r="2.75"/><circle cx="554.0" cy="610.7" r="2.75"/><circle cx="555.0" cy="611.6" r="2.75"/><circle cx="535" cy="565" r="2.75"/><circle cx="646.1" cy="487.1" r="2.75"/><circle cx="544.4" cy="580.6" r="2.75"/><circle cx="545.8" cy="605.9" r="2.75"/><circle cx="560.6" cy="589.7" r="2.75"/><circle cx="560.7" cy="581.2" r="2.75"/><circle cx="587.6" cy="534.9" r="2.75"/><circle cx="547.0" cy="606.0" r="2.75"/><circle cx="540.9" cy="588.1" r="2.75"/><circle cx="551.7" cy="613.0" r="2.75"/><circle cx="594.7" cy="580" r="2.75"/><circle cx="573.3" cy="608.9" r="2.75"/><circle cx="548.8" cy="590.1" r="2.75"/><circle cx="567.3" cy="537.9" r="2.75"/><circle cx="565.1" cy="582.8" r="2.75"/><circle cx="532" cy="576.5" r="2.75"/><circle cx="569.5" cy="562.1" r="2.75"/><circle cx="573.2" cy="564.8" r="2.75"/><circle cx="575.9" cy="567.0" r="2.75"/><circle cx="574.9" cy="600.5" r="2.75"/><circle cx="551.7" cy="599.8" r="2.75"/><circle cx="539.4" cy="595.8" r="2.75"/><circle cx="575.4" cy="563.5" r="2.75"/><circle cx="549.9" cy="592.2" r="2.75"/><circle cx="568.5" cy="603.1" r="2.75"/><circle cx="567.8" cy="600.9" r="2.75"/><circle cx="569.1" cy="612.0" r="2.75"/><circle cx="571.2" cy="582.2" r="2.75"/><circle cx="565.7" cy="578.7" r="2.75"/><circle cx="575.6" cy="602.3" r="2.75"/><circle cx="566.2" cy="540.1" r="2.75"/><circle cx="548.6" cy="593.2" r="2.75"/><circle cx="547.7" cy="604.4" r="2.75"/><circle cx="542.0" cy="594.9" r="2.75"/><circle cx="574.9" cy="578.5" r="2.75"/><circle cx="546.5" cy="588.8" r="2.75"/><circle cx="569.0" cy="542.9" r="2.75"/><circle cx="562.8" cy="571.8" r="2.75"/><circle cx="575.0" cy="579.6" r="2.75"/><circle cx="564.7" cy="607.0" r="2.75"/><circle cx="575.1" cy="600.5" r="2.75"/><circle cx="565.9" cy="575.0" r="2.75"/><circle cx="571.0" cy="613.3" r="2.75"/><circle cx="555.8" cy="604.6" r="2.75"/><circle cx="539.6" cy="569.6" r="2.75"/><circle cx="566.0" cy="552.9" r="2.75"/><circle cx="565.1" cy="599.4" r="2.75"/><circle cx="557.3" cy="613.0" r="2.75"/><circle cx="539.1" cy="603.0" r="2.75"/><circle cx="577.7" cy="549.4" r="2.75"/><circle cx="588.5" cy="553.1" r="2.75"/><circle cx="570.3" cy="572.6" r="2.75"/><circle cx="540.8" cy="591.5" r="2.75"/><circle cx="568.6" cy="565.2" r="2.75"/><circle cx="575.3" cy="583.1" r="2.75"/><circle cx="563.1" cy="562.8" r="2.75"/><circle cx="574.0" cy="591.5" r="2.75"/><circle cx="565.1" cy="537.9" r="2.75"/><circle cx="569.3" cy="553.5" r="2.75"/><circle cx="577" cy="560" r="2.75"/><circle cx="551.8" cy="610.1" r="2.75"/><circle cx="570.2" cy="613.0" r="2.75"/><circle cx="534.4" cy="569.3" r="2.75"/><circle cx="566.1" cy="590.1" r="2.75"/><circle cx="562.0" cy="554.0" r="2.75"/><circle cx="574.3" cy="579.4" r="2.75"/><circle cx="528" cy="590" r="2.75"/><circle cx="545.7" cy="601.0" r="2.75"/><circle cx="565.4" cy="592.0" r="2.75"/><circle cx="574.8" cy="589.8" r="2.75"/><circle cx="564.2" cy="558.3" r="2.75"/><circle cx="582.7" cy="499.5" r="2.75"/><circle cx="583.7" cy="576.5" r="2.75"/><circle cx="562.4" cy="573.7" r="2.75"/><circle cx="540.2" cy="592.3" r="2.75"/><circle cx="556.2" cy="611.2" r="2.75"/><circle cx="547.2" cy="562" r="2.75"/><circle cx="557.0" cy="609.1" r="2.75"/><circle cx="575.0" cy="597.5" r="2.75"/><circle cx="544.7" cy="585.7" r="2.75"/><circle cx="564.9" cy="552.5" r="2.75"/><circle cx="532.7" cy="606.8" r="2.75"/><circle cx="574.1" cy="599.1" r="2.75"/><circle cx="572.1" cy="585.2" r="2.75"/><circle cx="567.5" cy="552.5" r="2.75"/><circle cx="565.3" cy="524.3" r="2.75"/><circle cx="525.2" cy="605.4" r="2.75"/><circle cx="560.7" cy="567.2" r="2.75"/><circle cx="571.8" cy="598.3" r="2.75"/><circle cx="551.2" cy="606.8" r="2.75"/><circle cx="541.0" cy="604.2" r="2.75"/><circle cx="563.0" cy="607.3" r="2.75"/><circle cx="563.6" cy="525" r="2.75"/><circle cx="544.0" cy="595.6" r="2.75"/><circle cx="552.5" cy="606.1" r="2.75"/><circle cx="562.5" cy="583.8" r="2.75"/><circle cx="568.9" cy="599.1" r="2.75"/><circle cx="565.1" cy="594.6" r="2.75"/><circle cx="534.1" cy="555.8" r="2.75"/><circle cx="544.7" cy="589.0" r="2.75"/><circle cx="566.0" cy="595.8" r="2.75"/><circle cx="542" cy="586" r="2.75"/><circle cx="550.7" cy="595.8" r="2.75"/><circle cx="566.1" cy="573.7" r="2.75"/><circle cx="543.4" cy="590.8" r="2.75"/><circle cx="547.5" cy="593.2" r="2.75"/><circle cx="568.2" cy="614.0" r="2.75"/><circle cx="551.9" cy="599.8" r="2.75"/><circle cx="555.1" cy="608.2" r="2.75"/><circle cx="569.5" cy="611.5" r="2.75"/><circle cx="566.0" cy="588.6" r="2.75"/><circle cx="560.2" cy="613.0" r="2.75"/><circle cx="539.2" cy="607.6" r="2.75"/><circle cx="575.5" cy="587.0" r="2.75"/><circle cx="562.2" cy="601.3" r="2.75"/><circle cx="543.4" cy="600.5" r="2.75"/><circle cx="554.4" cy="612.7" r="2.75"/><circle cx="567.4" cy="611.6" r="2.75"/><circle cx="567" cy="540" r="2.75"/><circle cx="556.7" cy="600.7" r="2.75"/><circle cx="530" cy="570.3" r="2.75"/><circle cx="566.0" cy="611.8" r="2.75"/><circle cx="563.4" cy="575.5" r="2.75"/><circle cx="567.6" cy="489.2" r="2.75"/><circle cx="541.8" cy="608.3" r="2.75"/><circle cx="556.3" cy="601.4" r="2.75"/><circle cx="575.0" cy="593.6" r="2.75"/><circle cx="546.3" cy="579.2" r="2.75"/><circle cx="561.9" cy="584.1" r="2.75"/><circle cx="568.7" cy="574.3" r="2.75"/><circle cx="565.0" cy="595.7" r="2.75"/><circle cx="575.5" cy="592.9" r="2.75"/><circle cx="564.8" cy="581.2" r="2.75"/><circle cx="571.8" cy="608.8" r="2.75"/><circle cx="570.4" cy="574.3" r="2.75"/><circle cx="574.3" cy="586.3" r="2.75"/><circle cx="556.0" cy="609.5" r="2.75"/><circle cx="564.9" cy="539.7" r="2.75"/><circle cx="556.0" cy="606.0" r="2.75"/><circle cx="586.4" cy="563.4" r="2.75"/><circle cx="543.9" cy="587.3" r="2.75"/><circle cx="549.5" cy="613.8" r="2.75"/><circle cx="574.4" cy="596.9" r="2.75"/><circle cx="554.7" cy="606.3" r="2.75"/><circle cx="562.8" cy="576.9" r="2.75"/><circle cx="582.6" cy="551.1" r="2.75"/><circle cx="571.1" cy="567.9" r="2.75"/><circle cx="532" cy="561.3" r="2.75"/><circle cx="539.9" cy="595.4" r="2.75"/><circle cx="546.6" cy="596.4" r="2.75"/><circle cx="566.2" cy="584.5" r="2.75"/><circle cx="539.7" cy="592.2" r="2.75"/><circle cx="566.9" cy="585.8" r="2.75"/><circle cx="536" cy="578" r="2.75"/><circle cx="590.1" cy="531.2" r="2.75"/><circle cx="555.5" cy="581.3" r="2.75"/><circle cx="570.7" cy="562.7" r="2.75"/><circle cx="571.0" cy="559.1" r="2.75"/><circle cx="543.0" cy="604.3" r="2.75"/><circle cx="551.7" cy="603.5" r="2.75"/><circle cx="544.6" cy="604.5" r="2.75"/><circle cx="565.2" cy="536.3" r="2.75"/><circle cx="563.8" cy="565.0" r="2.75"/><circle cx="572.4" cy="515.7" r="2.75"/><circle cx="570.6" cy="596.6" r="2.75"/><circle cx="587.8" cy="581.3" r="2.75"/><circle cx="564.1" cy="553.7" r="2.75"/><circle cx="530" cy="598.5" r="2.75"/><circle cx="545" cy="584" r="2.75"/><circle cx="563.1" cy="550.0" r="2.75"/><circle cx="549.2" cy="589.3" r="2.75"/><circle cx="575.3" cy="577.9" r="2.75"/><circle cx="574.5" cy="596.9" r="2.75"/><circle cx="560.5" cy="598.5" r="2.75"/><circle cx="565.4" cy="548.2" r="2.75"/><circle cx="564.0" cy="552.2" r="2.75"/><circle cx="540.2" cy="599.6" r="2.75"/><circle cx="562.4" cy="593.4" r="2.75"/><circle cx="571.8" cy="555.3" r="2.75"/><circle cx="523.1" cy="602.7" r="2.75"/><circle cx="563.9" cy="579.3" r="2.75"/><circle cx="548.6" cy="598.8" r="2.75"/><circle cx="564.2" cy="589.4" r="2.75"/><circle cx="574.8" cy="574.4" r="2.75"/><circle cx="560.0" cy="596.3" r="2.75"/><circle cx="554.0" cy="602.2" r="2.75"/><circle cx="571.9" cy="577.4" r="2.75"/><circle cx="562.8" cy="561.6" r="2.75"/><circle cx="530.6" cy="578.8" r="2.75"/><circle cx="544.2" cy="600.6" r="2.75"/><circle cx="583.5" cy="562.6" r="2.75"/><circle cx="539.7" cy="591.2" r="2.75"/><circle cx="569.6" cy="556.1" r="2.75"/><circle cx="550" cy="572.4" r="2.75"/><circle cx="571.5" cy="560.4" r="2.75"/><circle cx="574.1" cy="610.0" r="2.75"/><circle cx="560.7" cy="594.0" r="2.75"/><circle cx="570.6" cy="606.4" r="2.75"/><circle cx="574.3" cy="570.7" r="2.75"/><circle cx="543.3" cy="586.5" r="2.75"/><circle cx="541.2" cy="608.3" r="2.75"/><circle cx="566.0" cy="609.4" r="2.75"/><circle cx="564.1" cy="570.7" r="2.75"/><circle cx="545.9" cy="604.1" r="2.75"/><circle cx="571.8" cy="556.3" r="2.75"/><circle cx="570.9" cy="591.6" r="2.75"/><circle cx="575.8" cy="489.6" r="2.75"/><circle cx="547.2" cy="608.8" r="2.75"/><circle cx="561.8" cy="575.5" r="2.75"/><circle cx="569.8" cy="562.9" r="2.75"/><circle cx="572.2" cy="594.6" r="2.75"/><circle cx="575.9" cy="565.8" r="2.75"/><circle cx="574.1" cy="576.5" r="2.75"/><circle cx="541.7" cy="610.9" r="2.75"/><circle cx="570.2" cy="576.1" r="2.75"/><circle cx="570.6" cy="596.9" r="2.75"/><circle cx="570.5" cy="613.2" r="2.75"/><circle cx="572.2" cy="604.4" r="2.75"/><circle cx="543.3" cy="601.9" r="2.75"/><circle cx="581.6" cy="591" r="2.75"/><circle cx="562.0" cy="588.1" r="2.75"/><circle cx="566.1" cy="532.6" r="2.75"/><circle cx="572.0" cy="597.0" r="2.75"/><circle cx="567.8" cy="538.2" r="2.75"/><circle cx="526.5" cy="555.8" r="2.75"/><circle cx="580.7" cy="528.3" r="2.75"/><circle cx="567.2" cy="594.0" r="2.75"/><circle cx="570.3" cy="561.5" r="2.75"/><circle cx="542.2" cy="605.6" r="2.75"/><circle cx="565.6" cy="567.0" r="2.75"/><circle cx="543.9" cy="595.2" r="2.75"/><circle cx="545.3" cy="603.8" r="2.75"/><circle cx="572.4" cy="552.2" r="2.75"/><circle cx="578.5" cy="510.6" r="2.75"/><circle cx="566.0" cy="538.8" r="2.75"/><circle cx="572.4" cy="556.2" r="2.75"/><circle cx="550.9" cy="599.8" r="2.75"/><circle cx="565.1" cy="586.1" r="2.75"/><circle cx="563.4" cy="590.1" r="2.75"/><circle cx="529.3" cy="583.4" r="2.75"/><circle cx="566.1" cy="510.1" r="2.75"/><circle cx="546.9" cy="610.0" r="2.75"/><circle cx="565.2" cy="583.0" r="2.75"/><circle cx="545.1" cy="610.0" r="2.75"/><circle cx="573.5" cy="564.1" r="2.75"/><circle cx="556.8" cy="613.4" r="2.75"/><circle cx="566.7" cy="565.5" r="2.75"/><circle cx="567.3" cy="548.8" r="2.75"/><circle cx="565.7" cy="540.6" r="2.75"/><circle cx="565.2" cy="570.1" r="2.75"/><circle cx="578.5" cy="572.6" r="2.75"/><circle cx="584.8" cy="473.3" r="2.75"/><circle cx="566.2" cy="581.1" r="2.75"/><circle cx="543.7" cy="588.5" r="2.75"/><circle cx="549.0" cy="593.0" r="2.75"/><circle cx="581.6" cy="556.5" r="2.75"/><circle cx="575.2" cy="504.5" r="2.75"/><circle cx="564.5" cy="588.2" r="2.75"/><circle cx="562.5" cy="613.8" r="2.75"/><circle cx="551.5" cy="598.0" r="2.75"/><circle cx="564.7" cy="595.3" r="2.75"/><circle cx="541.9" cy="601.3" r="2.75"/><circle cx="575.9" cy="574.9" r="2.75"/><circle cx="575.9" cy="587.0" r="2.75"/><circle cx="588.4" cy="563.5" r="2.75"/><circle cx="572.7" cy="599.5" r="2.75"/><circle cx="589.3" cy="519.7" r="2.75"/><circle cx="540.8" cy="593.4" r="2.75"/><circle cx="548.4" cy="597.8" r="2.75"/><circle cx="569.7" cy="558.1" r="2.75"/><circle cx="567.7" cy="588.7" r="2.75"/><circle cx="574.2" cy="596.6" r="2.75"/><circle cx="553.0" cy="606.5" r="2.75"/><circle cx="551.9" cy="613.4" r="2.75"/><circle cx="568.9" cy="582.2" r="2.75"/><circle cx="571.5" cy="586.9" r="2.75"/><circle cx="565.0" cy="612.5" r="2.75"/><circle cx="565.0" cy="538.8" r="2.75"/><circle cx="568.0" cy="543.7" r="2.75"/><circle cx="545.5" cy="612.1" r="2.75"/><circle cx="578" cy="596" r="2.75"/><circle cx="561.1" cy="597.7" r="2.75"/><circle cx="573.6" cy="562.5" r="2.75"/><circle cx="553.5" cy="607.0" r="2.75"/><circle cx="540.8" cy="600.4" r="2.75"/><circle cx="564.7" cy="579.8" r="2.75"/><circle cx="540.9" cy="611.2" r="2.75"/><circle cx="570.4" cy="591.1" r="2.75"/><circle cx="539.3" cy="561.3" r="2.75"/><circle cx="551.5" cy="610.5" r="2.75"/><circle cx="564.4" cy="606.7" r="2.75"/><circle cx="565.1" cy="562.1" r="2.75"/><circle cx="562.6" cy="580.9" r="2.75"/><circle cx="568.6" cy="604.8" r="2.75"/><circle cx="561.5" cy="571.7" r="2.75"/><circle cx="575.7" cy="600.8" r="2.75"/><circle cx="566" cy="537" r="2.75"/><circle cx="565.0" cy="562.0" r="2.75"/><circle cx="561.8" cy="612.7" r="2.75"/><circle cx="560.4" cy="584.0" r="2.75"/><circle cx="571.9" cy="566.2" r="2.75"/><circle cx="544.1" cy="585.3" r="2.75"/><circle cx="548" cy="588" r="2.75"/><circle cx="570.3" cy="597.1" r="2.75"/><circle cx="574.1" cy="562.9" r="2.75"/><circle cx="561.5" cy="596.7" r="2.75"/><circle cx="551.9" cy="606.8" r="2.75"/><circle cx="596.5" cy="488.2" r="2.75"/><circle cx="560.8" cy="611.5" r="2.75"/><circle cx="549.9" cy="598.1" r="2.75"/><circle cx="576.9" cy="538.7" r="2.75"/><circle cx="569.2" cy="558.2" r="2.75"/><circle cx="572.2" cy="561.9" r="2.75"/><circle cx="567.8" cy="578.7" r="2.75"/><circle cx="546.5" cy="573.7" r="2.75"/><circle cx="568.5" cy="571.0" r="2.75"/><circle cx="571.4" cy="555.8" r="2.75"/><circle cx="557.8" cy="606.7" r="2.75"/><circle cx="543.7" cy="594.3" r="2.75"/><circle cx="562.8" cy="570.8" r="2.75"/><circle cx="561.5" cy="606.4" r="2.75"/><circle cx="575.9" cy="582.0" r="2.75"/><circle cx="565.2" cy="552.4" r="2.75"/><circle cx="541.3" cy="606.5" r="2.75"/><circle cx="562.1" cy="608.2" r="2.75"/><circle cx="574.3" cy="573.9" r="2.75"/><circle cx="550.4" cy="575.9" r="2.75"/><circle cx="585.1" cy="550.3" r="2.75"/><circle cx="530.7" cy="612.3" r="2.75"/><circle cx="565.0" cy="598.6" r="2.75"/><circle cx="560.7" cy="587.7" r="2.75"/><circle cx="542.6" cy="591.9" r="2.75"/><circle cx="575.6" cy="573.7" r="2.75"/><circle cx="564.7" cy="539.4" r="2.75"/><circle cx="549.9" cy="596.0" r="2.75"/><circle cx="542.4" cy="596.9" r="2.75"/><circle cx="573.8" cy="580.2" r="2.75"/><circle cx="565.1" cy="536.4" r="2.75"/><circle cx="567.7" cy="579.9" r="2.75"/><circle cx="562.5" cy="551.1" r="2.75"/><circle cx="540.1" cy="593.9" r="2.75"/><circle cx="578" cy="585" r="2.75"/><circle cx="560.9" cy="596.4" r="2.75"/><circle cx="573.6" cy="510.6" r="2.75"/><circle cx="603.3" cy="405.1" r="2.75"/><circle cx="566.1" cy="549.5" r="2.75"/><circle cx="568.4" cy="581.7" r="2.75"/><circle cx="573.5" cy="576.7" r="2.75"/><circle cx="572.8" cy="609.2" r="2.75"/><circle cx="572.4" cy="610.5" r="2.75"/><circle cx="587.1" cy="588.9" r="2.75"/><circle cx="585.1" cy="521.7" r="2.75"/><circle cx="548.3" cy="609.9" r="2.75"/><circle cx="573.4" cy="612.8" r="2.75"/><circle cx="578.9" cy="610.2" r="2.75"/><circle cx="591" cy="497.2" r="2.75"/><circle cx="571.1" cy="606.2" r="2.75"/><circle cx="562.6" cy="603.5" r="2.75"/><circle cx="569" cy="543" r="2.75"/><circle cx="599.7" cy="521.7" r="2.75"/><circle cx="539.6" cy="588.3" r="2.75"/><circle cx="554.7" cy="613.3" r="2.75"/><circle cx="574.7" cy="581.8" r="2.75"/><circle cx="546.7" cy="607.8" r="2.75"/><circle cx="544.3" cy="602.0" r="2.75"/><circle cx="547.3" cy="608.1" r="2.75"/><circle cx="572.0" cy="555.3" r="2.75"/><circle cx="572.2" cy="608.3" r="2.75"/><circle cx="562.5" cy="555.7" r="2.75"/><circle cx="538.9" cy="612.3" r="2.75"/><circle cx="571.2" cy="585.6" r="2.75"/><circle cx="544.6" cy="573.9" r="2.75"/><circle cx="579" cy="570" r="2.75"/><circle cx="595.4" cy="604.7" r="2.75"/><circle cx="565.3" cy="571.7" r="2.75"/></g>
<path d="M603.3 402.4V394.6H606M585.3 470.6L588.2 445.8H591M577.3 487.4L601.3 459.6H603M596.6 485.5L597.2 473H600.6M592.5 495L607.5 480.6H610M585.2 498.5L598 492H604.8M648.3 488.8L654 493H657M578 504.1H598M581 511L602.3 513.5M602.4 522.3L607 523.6M591.5 521.3L608 534.3M587.3 523.3L614.9 543.4H620M606.8 549.2L618 551.5M591.6 533.5L614.9 560.6H618M507.2 524.9L470.3 520.7" stroke="#8a8a8a" stroke-width="0.6" fill="none"/>
<g font-size="6.25" fill="#6e6e6e"><text x="611.9" y="396.6">3-hydroxysebacate</text><text x="595.5" y="447.9">oleoyl-linoleoyl-glycerol (18:1/18:2)</text><text x="615.1" y="461.7">sphingomyelin (d18:2/18:1)*</text><text x="610.3" y="474.9">cis-3,4-methyleneheptanoate</text><text x="615.1" y="483.1">octadecenedioylcarnitine (C18:1-DC)*</text><text x="608.5" y="493.3">quinolinate</text><text x="660.6" y="491.8">glutamine conjugate of</text><text x="678.5" y="498.3">C7H12O2*</text><text x="606.9" y="506.7">sphingomyelin (d18:1/22:2, d18:2/22:1,...</text><text x="607.1" y="515.4">sphingomyelin (d18:1/25:0, d19:0/24:1,...</text><text x="614.2" y="525.7">glutamine conjugate of C6H10O2 (1)*</text><text x="610.8" y="535.9">sphingomyelin (d18:1/20:2, d18:2/20:1,...</text><text x="622.2" y="545.5">3-hydroxyoctanoate</text><text x="622.2" y="553.8">3-hydroxyhexanoylcarnitine (1)</text><text x="621.3" y="563.2">cis-3,4-methyleneheptanoylcarnitine</text><text x="422.4" y="523.3">isovalerylglycine</text></g>
<g fill="#606060" fill-opacity="0.5" stroke="#505050" stroke-opacity="0.5" stroke-width="0.5"><circle cx="199.0" cy="876.6" r="2.75"/><circle cx="209.2" cy="907.5" r="2.75"/><circle cx="218.7" cy="855.5" r="2.75"/><circle cx="199.7" cy="890.2" r="2.75"/><circle cx="206.8" cy="913.3" r="2.75"/><circle cx="207.4" cy="950.5" r="2.75"/><circle cx="198.2" cy="932.8" r="2.75"/><circle cx="206.8" cy="883.2" r="2.75"/><circle cx="207.4" cy="898.3" r="2.75"/><circle cx="208.6" cy="891.7" r="2.75"/><circle cx="199.6" cy="929.4" r="2.75"/><circle cx="206.1" cy="930.2" r="2.75"/><circle cx="190.0" cy="943.0" r="2.75"/><circle cx="203.7" cy="940.3" r="2.75"/><circle cx="186.8" cy="940.2" r="2.75"/><circle cx="178.2" cy="910.4" r="2.75"/><circle cx="201.5" cy="896.9" r="2.75"/><circle cx="204.4" cy="919.5" r="2.75"/><circle cx="209.1" cy="924.6" r="2.75"/><circle cx="221.8" cy="927.9" r="2.75"/><circle cx="162.3" cy="904.7" r="2.75"/><circle cx="189.1" cy="931.0" r="2.75"/><circle cx="197.3" cy="944.0" r="2.75"/><circle cx="205.3" cy="948.5" r="2.75"/><circle cx="204.4" cy="890.1" r="2.75"/><circle cx="186.8" cy="948.2" r="2.75"/><circle cx="182.1" cy="939.7" r="2.75"/><circle cx="170" cy="925" r="2.75"/><circle cx="205.6" cy="908.0" r="2.75"/><circle cx="199.9" cy="904.4" r="2.75"/><circle cx="202.4" cy="921.3" r="2.75"/><circle cx="196.5" cy="916.8" r="2.75"/><circle cx="228.4" cy="911" r="2.75"/><circle cx="194.9" cy="911.7" r="2.75"/><circle cx="185.8" cy="946.0" r="2.75"/><circle cx="200.1" cy="935.1" r="2.75"/><circle cx="181.5" cy="944.6" r="2.75"/><circle cx="207.2" cy="880.5" r="2.75"/><circle cx="199.4" cy="935.7" r="2.75"/><circle cx="200.7" cy="870.3" r="2.75"/><circle cx="203.5" cy="915.3" r="2.75"/><circle cx="188.4" cy="929.4" r="2.75"/><circle cx="202.5" cy="876.8" r="2.75"/><circle cx="205.1" cy="929.6" r="2.75"/><circle cx="199.5" cy="885.9" r="2.75"/><circle cx="172" cy="935" r="2.75"/><circle cx="221.5" cy="841.5" r="2.75"/><circle cx="183.1" cy="931.9" r="2.75"/><circle cx="206.0" cy="935.5" r="2.75"/><circle cx="178.1" cy="942.2" r="2.75"/><circle cx="198.0" cy="904.0" r="2.75"/><circle cx="209.8" cy="934.3" r="2.75"/><circle cx="195.8" cy="943.2" r="2.75"/><circle cx="180.7" cy="939.8" r="2.75"/><circle cx="181.2" cy="909.0" r="2.75"/><circle cx="183.2" cy="942.6" r="2.75"/><circle cx="188.3" cy="949.7" r="2.75"/><circle cx="234.7" cy="873.8" r="2.75"/><circle cx="200.7" cy="909.8" r="2.75"/><circle cx="198.6" cy="939.1" r="2.75"/><circle cx="218.5" cy="947.7" r="2.75"/><circle cx="200.9" cy="907.9" r="2.75"/><circle cx="203.8" cy="908.5" r="2.75"/><circle cx="149.9" cy="913.3" r="2.75"/><circle cx="213" cy="940" r="2.75"/><circle cx="186.2" cy="927.5" r="2.75"/><circle cx="202.4" cy="949.5" r="2.75"/><circle cx="166.4" cy="936.9" r="2.75"/><circle cx="202.3" cy="951.1" r="2.75"/><circle cx="184.3" cy="952.8" r="2.75"/><circle cx="209.9" cy="928.6" r="2.75"/><circle cx="206.6" cy="879.7" r="2.75"/><circle cx="198.7" cy="902.7" r="2.75"/><circle cx="212.6" cy="953.6" r="2.75"/><circle cx="254" cy="955.1" r="2.75"/><circle cx="196.7" cy="947.3" r="2.75"/><circle cx="208.1" cy="922.4" r="2.75"/><circle cx="186.8" cy="926.5" r="2.75"/><circle cx="185.5" cy="913.5" r="2.75"/><circle cx="210.2" cy="936.4" r="2.75"/><circle cx="207.8" cy="934.8" r="2.75"/><circle cx="176.6" cy="939.4" r="2.75"/><circle cx="201.7" cy="916.7" r="2.75"/><circle cx="177.6" cy="920.5" r="2.75"/><circle cx="177.9" cy="917.6" r="2.75"/><circle cx="201.4" cy="924.9" r="2.75"/><circle cx="196.3" cy="936.6" r="2.75"/><circle cx="186.5" cy="934.1" r="2.75"/><circle cx="182.5" cy="912.4" r="2.75"/><circle cx="194.6" cy="906.9" r="2.75"/><circle cx="177.9" cy="931.9" r="2.75"/><circle cx="208.0" cy="924.0" r="2.75"/><circle cx="191.0" cy="927.5" r="2.75"/><circle cx="219.9" cy="873.1" r="2.75"/><circle cx="193.5" cy="952.0" r="2.75"/><circle cx="217.7" cy="924.5" r="2.75"/><circle cx="198.4" cy="890.3" r="2.75"/><circle cx="199.8" cy="932.7" r="2.75"/><circle cx="183.4" cy="945.5" r="2.75"/><circle cx="222.6" cy="951" r="2.75"/><circle cx="184.1" cy="944.5" r="2.75"/><circle cx="177.4" cy="935.5" r="2.75"/><circle cx="206.2" cy="897.9" r="2.75"/><circle cx="199.3" cy="952.4" r="2.75"/><circle cx="188.6" cy="943.0" r="2.75"/><circle cx="205.1" cy="907.9" r="2.75"/><circle cx="201.7" cy="921.9" r="2.75"/><circle cx="188.2" cy="917.1" r="2.75"/><circle cx="185.6" cy="919.1" r="2.75"/><circle cx="202.1" cy="944.4" r="2.75"/><circle cx="156.2" cy="877.4" r="2.75"/><circle cx="196.3" cy="899.2" r="2.75"/><circle cx="197.3" cy="941.1" r="2.75"/><circle cx="199.6" cy="905.9" r="2.75"/><circle cx="197.5" cy="917.3" r="2.75"/><circle cx="214" cy="910" r="2.75"/><circle cx="201.5" cy="938.8" r="2.75"/><circle cx="182.9" cy="925.5" r="2.75"/><circle cx="177.8" cy="917.8" r="2.75"/><circle cx="208.6" cy="906.8" r="2.75"/><circle cx="195.4" cy="911.4" r="2.75"/><circle cx="209.7" cy="932.2" r="2.75"/><circle cx="189.3" cy="939.3" r="2.75"/><circle cx="210.5" cy="871.4" r="2.75"/><circle cx="207.8" cy="902.8" r="2.75"/><circle cx="209.5" cy="932.6" r="2.75"/><circle cx="208.2" cy="948.3" r="2.75"/><circle cx="204.9" cy="943.2" r="2.75"/><circle cx="200.5" cy="886.9" r="2.75"/><circle cx="185.5" cy="941.6" r="2.75"/><circle cx="204.5" cy="929.3" r="2.75"/><circle cx="182.6" cy="916.0" r="2.75"/><circle cx="159.8" cy="900.6" r="2.75"/><circle cx="214.5" cy="829.3" r="2.75"/><circle cx="181.3" cy="910.4" r="2.75"/><circle cx="209.2" cy="940.2" r="2.75"/><circle cx="201.6" cy="891.2" r="2.75"/><circle cx="185.7" cy="915.6" r="2.75"/><circle cx="187.1" cy="910.9" r="2.75"/><circle cx="204.0" cy="878.2" r="2.75"/><circle cx="163.1" cy="916.3" r="2.75"/><circle cx="183.5" cy="923.7" r="2.75"/><circle cx="209.4" cy="934.1" r="2.75"/><circle cx="191.2" cy="953.4" r="2.75"/><circle cx="202.3" cy="909.0" r="2.75"/><circle cx="197.2" cy="870.4" r="2.75"/><circle cx="184.1" cy="941.8" r="2.75"/><circle cx="207.6" cy="951.7" r="2.75"/><circle cx="202.1" cy="914.5" r="2.75"/><circle cx="165.6" cy="946" r="2.75"/><circle cx="183.1" cy="949.7" r="2.75"/><circle cx="205.3" cy="940.5" r="2.75"/><circle cx="196.3" cy="939.5" r="2.75"/><circle cx="192.2" cy="953.3" r="2.75"/><circle cx="206.5" cy="898.7" r="2.75"/><circle cx="192.1" cy="927.8" r="2.75"/><circle cx="207.2" cy="896.0" r="2.75"/><circle cx="205.9" cy="939.3" r="2.75"/><circle cx="190.5" cy="921.8" r="2.75"/><circle cx="200.2" cy="909.0" r="2.75"/><circle cx="199.2" cy="909.7" r="2.75"/><circle cx="189.5" cy="934.8" r="2.75"/><circle cx="207.1" cy="895.9" r="2.75"/><circle cx="164.7" cy="915.6" r="2.75"/><circle cx="200.7" cy="922.0" r="2.75"/><circle cx="179.3" cy="927.8" r="2.75"/><circle cx="200.1" cy="922.9" r="2.75"/><circle cx="198.3" cy="906.8" r="2.75"/><circle cx="204.1" cy="866.9" r="2.75"/><circle cx="209.1" cy="907.1" r="2.75"/><circle cx="203.3" cy="931.9" r="2.75"/><circle cx="202" cy="873.6" r="2.75"/><circle cx="185.0" cy="911.0" r="2.75"/><circle cx="197.1" cy="927.7" r="2.75"/><circle cx="183.4" cy="913.4" r="2.75"/><circle cx="204.6" cy="941.8" r="2.75"/><circle cx="197.7" cy="882.3" r="2.75"/><circle cx="203.2" cy="948.4" r="2.75"/><circle cx="205.6" cy="929.3" r="2.75"/><circle cx="209.6" cy="932.3" r="2.75"/><circle cx="206.8" cy="893.7" r="2.75"/><circle cx="197.3" cy="890.3" r="2.75"/><circle cx="186.6" cy="939.0" r="2.75"/><circle cx="214" cy="918" r="2.75"/><circle cx="206.8" cy="882.3" r="2.75"/><circle cx="220.9" cy="950.3" r="2.75"/><circle cx="181.3" cy="923.3" r="2.75"/><circle cx="195.5" cy="896.6" r="2.75"/><circle cx="163.1" cy="935.3" r="2.75"/><circle cx="183.9" cy="916.5" r="2.75"/><circle cx="202.5" cy="908.3" r="2.75"/><circle cx="199.8" cy="897.4" r="2.75"/><circle cx="184.8" cy="940.9" r="2.75"/><circle cx="215.9" cy="891.8" r="2.75"/><circle cx="198.0" cy="921.8" r="2.75"/><circle cx="195.8" cy="906.5" r="2.75"/><circle cx="205.0" cy="932.5" r="2.75"/><circle cx="202.9" cy="933.9" r="2.75"/><circle cx="204.9" cy="892.9" r="2.75"/><circle cx="171.3" cy="922.2" r="2.75"/><circle cx="185.7" cy="926.6" r="2.75"/><circle cx="205.3" cy="919.1" r="2.75"/><circle cx="209.8" cy="909.2" r="2.75"/><circle cx="201.7" cy="929.9" r="2.75"/><circle cx="189.3" cy="949.8" r="2.75"/><circle cx="192.9" cy="941.2" r="2.75"/><circle cx="187.4" cy="916.1" r="2.75"/><circle cx="182.6" cy="947.4" r="2.75"/><circle cx="203.3" cy="885.0" r="2.75"/><circle cx="209.2" cy="938.1" r="2.75"/><circle cx="201.4" cy="933.3" r="2.75"/><circle cx="201.7" cy="904.1" r="2.75"/><circle cx="206" cy="885.9" r="2.75"/><circle cx="207.0" cy="915.8" r="2.75"/><circle cx="187.9" cy="941.4" r="2.75"/><circle cx="198.8" cy="924.3" r="2.75"/><circle cx="199.6" cy="935.9" r="2.75"/><circle cx="184.6" cy="932.9" r="2.75"/><circle cx="208.1" cy="919.6" r="2.75"/><circle cx="194.8" cy="934.5" r="2.75"/><circle cx="207.9" cy="908.2" r="2.75"/><circle cx="219.3" cy="932.1" r="2.75"/><circle cx="164.8" cy="925.4" r="2.75"/><circle cx="216.6" cy="942.1" r="2.75"/><circle cx="191.7" cy="949.8" r="2.75"/><circle cx="221.8" cy="937.8" r="2.75"/><circle cx="206.5" cy="932.6" r="2.75"/><circle cx="170.6" cy="914.6" r="2.75"/><circle cx="208.5" cy="939.0" r="2.75"/><circle cx="211.2" cy="835.1" r="2.75"/><circle cx="180.0" cy="912.2" r="2.75"/><circle cx="189.7" cy="945.4" r="2.75"/><circle cx="202.9" cy="935.4" r="2.75"/><circle cx="170.6" cy="903.1" r="2.75"/><circle cx="205.9" cy="892.2" r="2.75"/><circle cx="196.4" cy="915.4" r="2.75"/><circle cx="204.2" cy="915.1" r="2.75"/><circle cx="197.2" cy="929.0" r="2.75"/><circle cx="228.1" cy="865.1" r="2.75"/><circle cx="206.6" cy="936.2" r="2.75"/><circle cx="166.4" cy="896.4" r="2.75"/><circle cx="163.1" cy="921.2" r="2.75"/><circle cx="202.6" cy="940.7" r="2.75"/><circle cx="209.2" cy="931.5" r="2.75"/><circle cx="204.1" cy="903.9" r="2.75"/><circle cx="184.1" cy="953.0" r="2.75"/><circle cx="196.5" cy="942.5" r="2.75"/><circle cx="205.8" cy="949.5" r="2.75"/><circle cx="183.0" cy="921.5" r="2.75"/><circle cx="197.8" cy="885.9" r="2.75"/><circle cx="185.1" cy="938.8" r="2.75"/><circle cx="206.5" cy="878.3" r="2.75"/><circle cx="195.1" cy="916.9" r="2.75"/><circle cx="208.5" cy="917.1" r="2.75"/><circle cx="207.6" cy="948.2" r="2.75"/><circle cx="199.3" cy="924.2" r="2.75"/><circle cx="196.4" cy="949.9" r="2.75"/><circle cx="216" cy="933.6" r="2.75"/><circle cx="186.1" cy="953.1" r="2.75"/><circle cx="203.9" cy="915.2" r="2.75"/><circle cx="207.0" cy="911.4" r="2.75"/><circle cx="176.2" cy="934.0" r="2.75"/><circle cx="194.9" cy="923.3" r="2.75"/><circle cx="200.7" cy="890.3" r="2.75"/><circle cx="206.0" cy="940.1" r="2.75"/><circle cx="195.5" cy="901.3" r="2.75"/><circle cx="202.3" cy="922.8" r="2.75"/><circle cx="186.8" cy="950.8" r="2.75"/><circle cx="208.5" cy="949.7" r="2.75"/><circle cx="198.0" cy="945.2" r="2.75"/><circle cx="198.2" cy="891.9" r="2.75"/><circle cx="190.7" cy="945.8" r="2.75"/><circle cx="196.7" cy="900.7" r="2.75"/><circle cx="204.0" cy="874.9" r="2.75"/><circle cx="205.4" cy="917.4" r="2.75"/><circle cx="205.2" cy="934.4" r="2.75"/><circle cx="199.6" cy="945.9" r="2.75"/><circle cx="224.3" cy="944.4" r="2.75"/><circle cx="200.8" cy="854.5" r="2.75"/><circle cx="198.9" cy="890.0" r="2.75"/><circle cx="178.8" cy="909.8" r="2.75"/><circle cx="176.3" cy="942" r="2.75"/><circle cx="181.3" cy="919.3" r="2.75"/><circle cx="185.7" cy="912.5" r="2.75"/><circle cx="206.7" cy="937.9" r="2.75"/><circle cx="200.4" cy="875.0" r="2.75"/><circle cx="185.5" cy="911.3" r="2.75"/><circle cx="197.7" cy="931.3" r="2.75"/><circle cx="203.3" cy="941.8" r="2.75"/><circle cx="199.0" cy="924.4" r="2.75"/><circle cx="199.6" cy="938.0" r="2.75"/><circle cx="184.0" cy="940.8" r="2.75"/><circle cx="185.0" cy="909.8" r="2.75"/><circle cx="198.6" cy="941.3" r="2.75"/><circle cx="180.3" cy="928.6" r="2.75"/><circle cx="211.2" cy="853.4" r="2.75"/><circle cx="198.8" cy="951.4" r="2.75"/><circle cx="180.7" cy="910.7" r="2.75"/><circle cx="164.8" cy="905.5" r="2.75"/><circle cx="210.5" cy="941.4" r="2.75"/><circle cx="189.6" cy="948.3" r="2.75"/><circle cx="195.3" cy="949.1" r="2.75"/><circle cx="204.0" cy="917.5" r="2.75"/><circle cx="204.7" cy="913.8" r="2.75"/><circle cx="214.3" cy="892.5" r="2.75"/><circle cx="186.8" cy="948.5" r="2.75"/><circle cx="192.6" cy="935.6" r="2.75"/><circle cx="197.3" cy="921.7" r="2.75"/><circle cx="164.7" cy="935.5" r="2.75"/><circle cx="179.1" cy="938.7" r="2.75"/><circle cx="208.1" cy="945.7" r="2.75"/><circle cx="200.8" cy="891.8" r="2.75"/><circle cx="209.0" cy="949.5" r="2.75"/><circle cx="216" cy="898.1" r="2.75"/><circle cx="210.3" cy="942.0" r="2.75"/><circle cx="192.4" cy="932.0" r="2.75"/><circle cx="203.9" cy="909.0" r="2.75"/><circle cx="198.7" cy="914.8" r="2.75"/><circle cx="203.7" cy="889.8" r="2.75"/><circle cx="201.1" cy="883.4" r="2.75"/><circle cx="196.8" cy="910.8" r="2.75"/><circle cx="197.1" cy="898.2" r="2.75"/><circle cx="198.4" cy="891.1" r="2.75"/><circle cx="206.6" cy="871.5" r="2.75"/><circle cx="183.9" cy="943.4" r="2.75"/><circle cx="205.4" cy="919.9" r="2.75"/><circle cx="209.7" cy="918.5" r="2.75"/><circle cx="208.8" cy="902.4" r="2.75"/><circle cx="223.5" cy="906" r="2.75"/><circle cx="206.4" cy="885.0" r="2.75"/><circle cx="198.7" cy="840.5" r="2.75"/><circle cx="197.5" cy="951.6" r="2.75"/><circle cx="203.5" cy="942.5" r="2.75"/><circle cx="204.9" cy="903.3" r="2.75"/><circle cx="168.1" cy="941.9" r="2.75"/><circle cx="200.7" cy="906.8" r="2.75"/><circle cx="184.7" cy="918.8" r="2.75"/><circle cx="201.5" cy="926.1" r="2.75"/><circle cx="203.9" cy="881.8" r="2.75"/><circle cx="208.5" cy="922.2" r="2.75"/><circle cx="201.1" cy="879.3" r="2.75"/><circle cx="186.3" cy="909.0" r="2.75"/><circle cx="208.8" cy="928.6" r="2.75"/><circle cx="197.0" cy="950.7" r="2.75"/><circle cx="174.7" cy="915.5" r="2.75"/><circle cx="208.0" cy="937.1" r="2.75"/><circle cx="194.5" cy="918.3" r="2.75"/><circle cx="201.3" cy="932.9" r="2.75"/><circle cx="204.8" cy="916.8" r="2.75"/><circle cx="206.2" cy="933.7" r="2.75"/><circle cx="199.8" cy="948.0" r="2.75"/><circle cx="233.9" cy="917.9" r="2.75"/><circle cx="204.6" cy="892.1" r="2.75"/><circle cx="206" cy="877.6" r="2.75"/><circle cx="185.8" cy="921.9" r="2.75"/><circle cx="200.6" cy="935.7" r="2.75"/><circle cx="201.4" cy="937.0" r="2.75"/><circle cx="202.1" cy="939.0" r="2.75"/><circle cx="175" cy="898.1" r="2.75"/><circle cx="196.1" cy="890.7" r="2.75"/><circle cx="184.0" cy="947.8" r="2.75"/><circle cx="203.8" cy="909.6" r="2.75"/><circle cx="190.1" cy="954.2" r="2.75"/><circle cx="201.2" cy="949.4" r="2.75"/><circle cx="210.3" cy="906.3" r="2.75"/><circle cx="201.7" cy="905.5" r="2.75"/><circle cx="180.6" cy="937.8" r="2.75"/><circle cx="208.2" cy="903.8" r="2.75"/><circle cx="187.8" cy="931.3" r="2.75"/><circle cx="208.3" cy="917.9" r="2.75"/><circle cx="182.0" cy="950.6" r="2.75"/><circle cx="181.3" cy="929.4" r="2.75"/><circle cx="195.2" cy="930.9" r="2.75"/><circle cx="197.4" cy="890.5" r="2.75"/><circle cx="199.2" cy="946.0" r="2.75"/><circle cx="174.6" cy="948.7" r="2.75"/><circle cx="202.5" cy="947.9" r="2.75"/><circle cx="181.0" cy="925.0" r="2.75"/><circle cx="176.3" cy="925.5" r="2.75"/><circle cx="206.9" cy="872.9" r="2.75"/><circle cx="196.6" cy="946.5" r="2.75"/><circle cx="198.0" cy="924.8" r="2.75"/><circle cx="200.7" cy="882.4" r="2.75"/><circle cx="203.0" cy="891.2" r="2.75"/><circle cx="181.9" cy="923.2" r="2.75"/><circle cx="185.2" cy="943.3" r="2.75"/><circle cx="183.3" cy="948.5" r="2.75"/><circle cx="204.3" cy="947.8" r="2.75"/><circle cx="202.5" cy="948.4" r="2.75"/><circle cx="187.4" cy="938.6" r="2.75"/><circle cx="179.7" cy="944.0" r="2.75"/><circle cx="189.5" cy="932.0" r="2.75"/><circle cx="209.5" cy="938.3" r="2.75"/><circle cx="205.1" cy="948.0" r="2.75"/><circle cx="188.4" cy="928.3" r="2.75"/><circle cx="238.8" cy="928.2" r="2.75"/><circle cx="202.7" cy="925.4" r="2.75"/><circle cx="203.4" cy="936.9" r="2.75"/><circle cx="210.2" cy="908.7" r="2.75"/><circle cx="203.6" cy="950.3" r="2.75"/></g>
<path d="M214.8 826.6L215.2 811.2H218.7M213.6 833.7L237.5 820.6M221.7 838.8L222.2 832.8H225.8M213.4 851.8L222.2 845.7H225.5M221.4 855.5H237.5M230.7 866L235.1 867.9M236 876.2L243.3 885.5H245.6M221.3 875.5L232.8 896H242M154.8 875.1L145.3 861.3L141.2 860.5" stroke="#8a8a8a" stroke-width="0.6" fill="none"/>
<g font-size="6.25" fill="#6e6e6e"><text x="230" y="813.8">glycosyl ceramide (d18:1/20:0, d16:1/22:0)*</text><text x="241.7" y="822.7">methylsuccinate</text><text x="231.6" y="833.7">glycosyl-N-stearoyl-sphingosine (d18:1/18:0)</text><text x="241" y="847.8">glutamine conjugate of C6H10O2 (1)*</text><text x="239.8" y="857.8">3-hydroxysebacate</text><text x="237" y="869.3">glycosyl ceramide (d18:2/24:1, d18:1/24:2)*</text><text x="246.8" y="888.1">catechol glucuronide</text><text x="244" y="897.6">citraconate/glutaconate</text><text x="102.3" y="862.6">glycocholate</text></g>
<g fill="#606060" fill-opacity="0.5" stroke="#505050" stroke-opacity="0.5" stroke-width="0.5"><circle cx="562.8" cy="938.0" r="2.75"/><circle cx="541.1" cy="921.5" r="2.75"/><circle cx="546.1" cy="949.4" r="2.75"/><circle cx="544.3" cy="941.7" r="2.75"/><circle cx="573.5" cy="898.4" r="2.75"/><circle cx="571.3" cy="899.1" r="2.75"/><circle cx="595.6" cy="905.8" r="2.75"/><circle cx="565.4" cy="951.4" r="2.75"/><circle cx="553.0" cy="933.3" r="2.75"/><circle cx="542.2" cy="940.7" r="2.75"/><circle cx="551.9" cy="940.7" r="2.75"/><circle cx="561.5" cy="947.8" r="2.75"/><circle cx="566.3" cy="934.4" r="2.75"/><circle cx="551.4" cy="943.6" r="2.75"/><circle cx="562.8" cy="930.0" r="2.75"/><circle cx="492.8" cy="873.6" r="2.75"/><circle cx="546.1" cy="861.4" r="2.75"/><circle cx="544.2" cy="941.4" r="2.75"/><circle cx="511" cy="945" r="2.75"/><circle cx="598" cy="934.3" r="2.75"/><circle cx="565.1" cy="950.2" r="2.75"/><circle cx="567.1" cy="927.2" r="2.75"/><circle cx="552.7" cy="937.7" r="2.75"/><circle cx="540.8" cy="934.1" r="2.75"/><circle cx="537.7" cy="901.4" r="2.75"/><circle cx="564.5" cy="948.9" r="2.75"/><circle cx="506.3" cy="897.1" r="2.75"/><circle cx="572.0" cy="926.7" r="2.75"/><circle cx="574.6" cy="948.6" r="2.75"/><circle cx="580.2" cy="928.1" r="2.75"/><circle cx="562.7" cy="924.7" r="2.75"/><circle cx="563.7" cy="945.0" r="2.75"/><circle cx="566.1" cy="921.3" r="2.75"/><circle cx="551.3" cy="939.1" r="2.75"/><circle cx="497.2" cy="904.8" r="2.75"/><circle cx="563.9" cy="944.9" r="2.75"/><circle cx="556.0" cy="952.7" r="2.75"/><circle cx="555.7" cy="940.6" r="2.75"/><circle cx="555.2" cy="942.2" r="2.75"/><circle cx="596.6" cy="940.1" r="2.75"/><circle cx="515.9" cy="891.7" r="2.75"/><circle cx="575.5" cy="932.9" r="2.75"/><circle cx="592.6" cy="945.5" r="2.75"/><circle cx="569.1" cy="951.1" r="2.75"/><circle cx="569.6" cy="938.1" r="2.75"/><circle cx="498.6" cy="881.3" r="2.75"/><circle cx="568.0" cy="897.8" r="2.75"/><circle cx="552.2" cy="937.1" r="2.75"/><circle cx="554.7" cy="946.9" r="2.75"/><circle cx="546.8" cy="916.4" r="2.75"/><circle cx="540.5" cy="868.2" r="2.75"/><circle cx="569.4" cy="914.5" r="2.75"/><circle cx="547.8" cy="939.0" r="2.75"/><circle cx="548.7" cy="929.9" r="2.75"/><circle cx="568.3" cy="901.1" r="2.75"/><circle cx="549.5" cy="934.0" r="2.75"/><circle cx="566.0" cy="900.4" r="2.75"/><circle cx="494.5" cy="913" r="2.75"/><circle cx="567.2" cy="916.2" r="2.75"/><circle cx="570.9" cy="914.0" r="2.75"/><circle cx="573.9" cy="922.9" r="2.75"/><circle cx="546.8" cy="915.9" r="2.75"/><circle cx="564.9" cy="941.0" r="2.75"/><circle cx="567.0" cy="952.8" r="2.75"/><circle cx="561.3" cy="953.1" r="2.75"/><circle cx="594.7" cy="907.9" r="2.75"/><circle cx="571.7" cy="941.1" r="2.75"/><circle cx="574.6" cy="918.3" r="2.75"/><circle cx="571.3" cy="953.6" r="2.75"/><circle cx="565.5" cy="932.6" r="2.75"/><circle cx="503.8" cy="932.2" r="2.75"/><circle cx="559.4" cy="946.4" r="2.75"/><circle cx="535" cy="945" r="2.75"/><circle cx="573.3" cy="909.8" r="2.75"/><circle cx="565.0" cy="911.2" r="2.75"/><circle cx="546.1" cy="922.0" r="2.75"/><circle cx="545.6" cy="939.5" r="2.75"/><circle cx="553.9" cy="942.5" r="2.75"/><circle cx="547.3" cy="925.1" r="2.75"/><circle cx="479.9" cy="902" r="2.75"/><circle cx="548.2" cy="947.3" r="2.75"/><circle cx="510.7" cy="902" r="2.75"/><circle cx="558.6" cy="951.9" r="2.75"/><circle cx="595.7" cy="932.6" r="2.75"/><circle cx="525.9" cy="929.5" r="2.75"/><circle cx="620.5" cy="925.4" r="2.75"/><circle cx="545.3" cy="943.6" r="2.75"/><circle cx="575.5" cy="929.0" r="2.75"/><circle cx="574.8" cy="914.0" r="2.75"/><circle cx="562.8" cy="945.0" r="2.75"/><circle cx="570.8" cy="949.8" r="2.75"/><circle cx="511.7" cy="896.2" r="2.75"/><circle cx="548.0" cy="951.1" r="2.75"/><circle cx="546.3" cy="934.1" r="2.75"/><circle cx="502.4" cy="912.2" r="2.75"/><circle cx="512" cy="920.2" r="2.75"/><circle cx="544.2" cy="940.6" r="2.75"/><circle cx="568.0" cy="904.6" r="2.75"/><circle cx="546.6" cy="938.4" r="2.75"/><circle cx="543.3" cy="932.8" r="2.75"/><circle cx="548.1" cy="913.4" r="2.75"/><circle cx="550.2" cy="896.5" r="2.75"/><circle cx="566.0" cy="929.8" r="2.75"/><circle cx="556.0" cy="953.5" r="2.75"/><circle cx="580" cy="935" r="2.75"/><circle cx="547.9" cy="925.5" r="2.75"/><circle cx="570.9" cy="950.5" r="2.75"/><circle cx="529.6" cy="925.4" r="2.75"/><circle cx="551.5" cy="948.3" r="2.75"/><circle cx="518.8" cy="922.7" r="2.75"/><circle cx="584.3" cy="941.3" r="2.75"/><circle cx="570.8" cy="920.3" r="2.75"/><circle cx="574.3" cy="945.8" r="2.75"/><circle cx="568.2" cy="911.7" r="2.75"/><circle cx="573.2" cy="914.4" r="2.75"/><circle cx="569.3" cy="936.1" r="2.75"/><circle cx="541.5" cy="929.8" r="2.75"/><circle cx="572.9" cy="933.2" r="2.75"/><circle cx="563.2" cy="936.7" r="2.75"/><circle cx="561.9" cy="914.6" r="2.75"/><circle cx="608.5" cy="927.5" r="2.75"/><circle cx="562.2" cy="931.7" r="2.75"/><circle cx="548.6" cy="925.4" r="2.75"/><circle cx="564.4" cy="930.9" r="2.75"/><circle cx="549.5" cy="936.2" r="2.75"/><circle cx="540.7" cy="928.7" r="2.75"/><circle cx="544.6" cy="945.1" r="2.75"/><circle cx="566.1" cy="901.8" r="2.75"/><circle cx="571.0" cy="935.1" r="2.75"/><circle cx="568.7" cy="926.5" r="2.75"/><circle cx="567.6" cy="902.4" r="2.75"/><circle cx="534.1" cy="883.1" r="2.75"/><circle cx="541.3" cy="918.8" r="2.75"/><circle cx="568.8" cy="953.3" r="2.75"/><circle cx="564.6" cy="921.4" r="2.75"/><circle cx="541.6" cy="938.2" r="2.75"/><circle cx="531.7" cy="954.3" r="2.75"/><circle cx="584.3" cy="889.7" r="2.75"/><circle cx="566.2" cy="947.4" r="2.75"/><circle cx="568.1" cy="952.9" r="2.75"/><circle cx="580" cy="915" r="2.75"/><circle cx="547.8" cy="935.5" r="2.75"/><circle cx="562.7" cy="932.7" r="2.75"/><circle cx="496.9" cy="912" r="2.75"/><circle cx="567.8" cy="948.0" r="2.75"/><circle cx="563.7" cy="929.9" r="2.75"/><circle cx="570.6" cy="937.7" r="2.75"/><circle cx="548.9" cy="950.8" r="2.75"/><circle cx="561.1" cy="949.3" r="2.75"/><circle cx="574.2" cy="943.1" r="2.75"/><circle cx="542.0" cy="923.5" r="2.75"/><circle cx="570.3" cy="935.8" r="2.75"/><circle cx="545.1" cy="892.4" r="2.75"/><circle cx="564.3" cy="943.6" r="2.75"/><circle cx="549.4" cy="929.7" r="2.75"/><circle cx="565.3" cy="925.4" r="2.75"/><circle cx="569.2" cy="920.9" r="2.75"/><circle cx="572.5" cy="945.4" r="2.75"/><circle cx="572.0" cy="948.3" r="2.75"/><circle cx="565.2" cy="946.8" r="2.75"/><circle cx="546.9" cy="920.0" r="2.75"/><circle cx="568.4" cy="926.6" r="2.75"/><circle cx="552.4" cy="941.1" r="2.75"/><circle cx="569.8" cy="946.7" r="2.75"/><circle cx="573.6" cy="946.9" r="2.75"/><circle cx="548.6" cy="886.2" r="2.75"/><circle cx="567.1" cy="897.7" r="2.75"/><circle cx="570.4" cy="914.7" r="2.75"/><circle cx="566.2" cy="946.9" r="2.75"/><circle cx="572.3" cy="944.0" r="2.75"/><circle cx="569.5" cy="944.3" r="2.75"/><circle cx="557.0" cy="938.4" r="2.75"/><circle cx="563.8" cy="949.2" r="2.75"/><circle cx="571.8" cy="906.5" r="2.75"/><circle cx="566.4" cy="910.2" r="2.75"/><circle cx="566.0" cy="939.1" r="2.75"/><circle cx="561.3" cy="935.5" r="2.75"/><circle cx="573.9" cy="947.2" r="2.75"/><circle cx="568.9" cy="933.1" r="2.75"/><circle cx="575.4" cy="927.0" r="2.75"/><circle cx="561.2" cy="934.6" r="2.75"/><circle cx="542.2" cy="939.1" r="2.75"/><circle cx="567.7" cy="925.8" r="2.75"/><circle cx="563.7" cy="939.3" r="2.75"/><circle cx="548.9" cy="925.9" r="2.75"/><circle cx="563.3" cy="933.4" r="2.75"/><circle cx="565.6" cy="946.6" r="2.75"/><circle cx="565.5" cy="896.4" r="2.75"/><circle cx="567.3" cy="946.5" r="2.75"/><circle cx="549.5" cy="929.5" r="2.75"/><circle cx="569.8" cy="931.2" r="2.75"/><circle cx="569.0" cy="950.8" r="2.75"/><circle cx="558.9" cy="911" r="2.75"/><circle cx="564.2" cy="942.9" r="2.75"/><circle cx="570.1" cy="897.3" r="2.75"/><circle cx="565.7" cy="852.5" r="2.75"/><circle cx="569.7" cy="921.0" r="2.75"/><circle cx="496.1" cy="889.8" r="2.75"/><circle cx="569.1" cy="903.5" r="2.75"/><circle cx="548.1" cy="929.3" r="2.75"/><circle cx="549.5" cy="933.3" r="2.75"/><circle cx="547.8" cy="927.5" r="2.75"/><circle cx="568.9" cy="945.0" r="2.75"/><circle cx="490.3" cy="852.2" r="2.75"/><circle cx="551.2" cy="952.7" r="2.75"/><circle cx="514.7" cy="937.2" r="2.75"/><circle cx="567.2" cy="952.0" r="2.75"/><circle cx="572.9" cy="953.1" r="2.75"/><circle cx="564.9" cy="942.5" r="2.75"/><circle cx="568.2" cy="951.4" r="2.75"/><circle cx="561.8" cy="944.4" r="2.75"/><circle cx="566.8" cy="889.3" r="2.75"/><circle cx="543" cy="908.3" r="2.75"/><circle cx="568.4" cy="938.0" r="2.75"/><circle cx="562.1" cy="932.7" r="2.75"/><circle cx="569.0" cy="902.4" r="2.75"/><circle cx="572.4" cy="939.3" r="2.75"/><circle cx="547.6" cy="871.7" r="2.75"/><circle cx="571.7" cy="933.7" r="2.75"/><circle cx="567.9" cy="946.7" r="2.75"/><circle cx="529.6" cy="899.2" r="2.75"/><circle cx="564.7" cy="947.9" r="2.75"/><circle cx="594.7" cy="928.5" r="2.75"/><circle cx="563.3" cy="908.2" r="2.75"/><circle cx="554.3" cy="954.3" r="2.75"/><circle cx="487.6" cy="892.3" r="2.75"/><circle cx="560.3" cy="936.3" r="2.75"/><circle cx="554.7" cy="942.3" r="2.75"/><circle cx="544.6" cy="937.8" r="2.75"/><circle cx="515.1" cy="928.5" r="2.75"/><circle cx="572.9" cy="928.2" r="2.75"/><circle cx="564.3" cy="925.6" r="2.75"/><circle cx="559.6" cy="949.6" r="2.75"/><circle cx="547.0" cy="951.1" r="2.75"/><circle cx="567.9" cy="927.3" r="2.75"/><circle cx="545.4" cy="929.6" r="2.75"/><circle cx="551.8" cy="938.9" r="2.75"/><circle cx="567.0" cy="927.6" r="2.75"/><circle cx="550.1" cy="945.4" r="2.75"/><circle cx="573.7" cy="926.6" r="2.75"/><circle cx="549.2" cy="932.4" r="2.75"/><circle cx="544.5" cy="912.7" r="2.75"/><circle cx="548.9" cy="951.6" r="2.75"/><circle cx="571.9" cy="928.0" r="2.75"/><circle cx="603.6" cy="936.8" r="2.75"/><circle cx="561.8" cy="936.8" r="2.75"/><circle cx="559.5" cy="939.8" r="2.75"/><circle cx="625.9" cy="886.2" r="2.75"/><circle cx="570.5" cy="916.0" r="2.75"/><circle cx="565.6" cy="906.7" r="2.75"/><circle cx="548.7" cy="945.4" r="2.75"/><circle cx="514.7" cy="913" r="2.75"/><circle cx="547.0" cy="915.0" r="2.75"/><circle cx="552.3" cy="938.5" r="2.75"/><circle cx="545.1" cy="949.9" r="2.75"/><circle cx="551.3" cy="910.3" r="2.75"/><circle cx="567.0" cy="905.6" r="2.75"/><circle cx="594.7" cy="891.3" r="2.75"/><circle cx="571.3" cy="922.4" r="2.75"/><circle cx="556.0" cy="947.1" r="2.75"/><circle cx="573.5" cy="943.6" r="2.75"/><circle cx="571.9" cy="875.8" r="2.75"/><circle cx="551.3" cy="894.4" r="2.75"/><circle cx="566.7" cy="895.9" r="2.75"/><circle cx="518.2" cy="933.7" r="2.75"/><circle cx="551.3" cy="954.2" r="2.75"/><circle cx="542.1" cy="926.7" r="2.75"/><circle cx="548.7" cy="937.2" r="2.75"/><circle cx="508.9" cy="934.7" r="2.75"/><circle cx="567.5" cy="930.9" r="2.75"/><circle cx="581.2" cy="895.5" r="2.75"/><circle cx="561.2" cy="937.4" r="2.75"/><circle cx="597.1" cy="864" r="2.75"/><circle cx="574.4" cy="947.5" r="2.75"/><circle cx="498.5" cy="924.5" r="2.75"/><circle cx="569.2" cy="946.9" r="2.75"/><circle cx="568.9" cy="934.5" r="2.75"/><circle cx="512.2" cy="946.5" r="2.75"/><circle cx="559.9" cy="942.4" r="2.75"/><circle cx="525.9" cy="904.8" r="2.75"/><circle cx="564.8" cy="939.2" r="2.75"/><circle cx="558.7" cy="951.5" r="2.75"/><circle cx="566.4" cy="954.4" r="2.75"/><circle cx="546.0" cy="915.7" r="2.75"/><circle cx="546.9" cy="918.6" r="2.75"/><circle cx="566.3" cy="940.4" r="2.75"/><circle cx="565.8" cy="937.3" r="2.75"/><circle cx="549.5" cy="933.1" r="2.75"/><circle cx="554.0" cy="947.3" r="2.75"/><circle cx="506.3" cy="907.7" r="2.75"/><circle cx="573.6" cy="908.9" r="2.75"/><circle cx="561.7" cy="951.2" r="2.75"/><circle cx="604.4" cy="938.2" r="2.75"/><circle cx="572.4" cy="897.0" r="2.75"/><circle cx="570.0" cy="945.7" r="2.75"/><circle cx="547.5" cy="940.7" r="2.75"/><circle cx="547.7" cy="914.9" r="2.75"/><circle cx="519.3" cy="916.5" r="2.75"/><circle cx="557.1" cy="953.6" r="2.75"/><circle cx="569.5" cy="946.0" r="2.75"/><circle cx="554.9" cy="947.6" r="2.75"/><circle cx="533.6" cy="905.5" r="2.75"/><circle cx="510.8" cy="929.4" r="2.75"/><circle cx="514.7" cy="939.2" r="2.75"/><circle cx="551.9" cy="949.1" r="2.75"/><circle cx="565.6" cy="944.8" r="2.75"/><circle cx="544.3" cy="914.6" r="2.75"/><circle cx="573.7" cy="951.1" r="2.75"/><circle cx="502.4" cy="934.3" r="2.75"/><circle cx="559.5" cy="953.1" r="2.75"/><circle cx="560.2" cy="900" r="2.75"/><circle cx="564.0" cy="928.2" r="2.75"/><circle cx="561.8" cy="950.2" r="2.75"/><circle cx="543.5" cy="922.0" r="2.75"/><circle cx="572.4" cy="907.1" r="2.75"/><circle cx="575.2" cy="947.5" r="2.75"/><circle cx="568.6" cy="942.8" r="2.75"/><circle cx="563.4" cy="938.6" r="2.75"/><circle cx="570.2" cy="948.0" r="2.75"/><circle cx="557.5" cy="946.6" r="2.75"/><circle cx="554.3" cy="938.9" r="2.75"/><circle cx="569.0" cy="954.5" r="2.75"/><circle cx="567.7" cy="954.4" r="2.75"/><circle cx="568.7" cy="934.8" r="2.75"/><circle cx="543.0" cy="937.2" r="2.75"/><circle cx="571.8" cy="935.1" r="2.75"/><circle cx="575.6" cy="934.7" r="2.75"/><circle cx="574.0" cy="945.5" r="2.75"/><circle cx="568.5" cy="938.1" r="2.75"/><circle cx="573.7" cy="936.0" r="2.75"/><circle cx="574" cy="878.9" r="2.75"/><circle cx="548.2" cy="919.1" r="2.75"/><circle cx="536" cy="935" r="2.75"/><circle cx="551.8" cy="938.3" r="2.75"/><circle cx="567.1" cy="947.7" r="2.75"/><circle cx="550.1" cy="930.4" r="2.75"/></g>
<path d="M487.6 851.6L463.9 847M490.5 872.2L467.7 860.9M495.9 881.8L474.5 885.6M599.5 862.6Q601 860.5 605 860.5M628.5 885.3Q631 883 635 883" stroke="#8a8a8a" stroke-width="0.6" fill="none"/>
<g font-size="6.25" fill="#6e6e6e"><text x="430.8" y="846.6" text-anchor="middle">16alpha-hydroxy DHEA</text><text x="430.8" y="853.5" text-anchor="middle">3-sulfate</text><text x="433.3" y="863.6" text-anchor="middle">pregnen-diol disulfate*</text><text x="434.6" y="884.4" text-anchor="middle">dehydroepiandrosterone</text><text x="434.3" y="891.1" text-anchor="middle">sulfate (DHEA-S)</text><text x="608.5" y="862.8">isovalerylglycine</text><text x="639" y="885.3">heme</text></g>
<g stroke="#838383" stroke-width="1.1" stroke-dasharray="7 7.3" fill="none"><path d="M115.9 497.9H269.0M115.9 537.1H269.0M115.9 564.5H269.0"/></g>
<path d="M170.3 379.8V615.4" stroke="#c9384a" stroke-width="1.05" stroke-dasharray="6.5 7.5" fill="none"/>
<path d="M211.6 380.3V615.4" stroke="#3a9ac8" stroke-width="1.05" stroke-dasharray="6.5 7.5" fill="none"/>
<g stroke="#838383" stroke-width="1.1" stroke-dasharray="7 7.3" fill="none"><path d="M479.9 498.9H632.8M479.9 537.9H632.8M479.9 565.2H632.8"/></g>
<path d="M534.2 382.2V615.8" stroke="#c9384a" stroke-width="1.05" stroke-dasharray="6.5 7.5" fill="none"/>
<path d="M576.1 382.6V615.8" stroke="#3a9ac8" stroke-width="1.05" stroke-dasharray="6.5 7.5" fill="none"/>
<g stroke="#838383" stroke-width="1.1" stroke-dasharray="7 7.3" fill="none"><path d="M116.3 839.0H269.5M116.3 878.0H269.5M116.3 905.3H269.5"/></g>
<path d="M170.7 722.5V956.0" stroke="#c9384a" stroke-width="1.05" stroke-dasharray="6.5 7.5" fill="none"/>
<path d="M212.0 723.0V956.0" stroke="#3a9ac8" stroke-width="1.05" stroke-dasharray="6.5 7.5" fill="none"/>
<g stroke="#838383" stroke-width="1.1" stroke-dasharray="7 7.3" fill="none"><path d="M479.9 839.1H632.9M479.9 878.1H632.9M479.9 905.4H632.9"/></g>
<path d="M535.1 722.5V956.2" stroke="#c9384a" stroke-width="1.05" stroke-dasharray="6.5 7.5" fill="none"/>
<path d="M576.8 723.0V956.2" stroke="#3a9ac8" stroke-width="1.05" stroke-dasharray="6.5 7.5" fill="none"/>
</svg>
</body></html>
